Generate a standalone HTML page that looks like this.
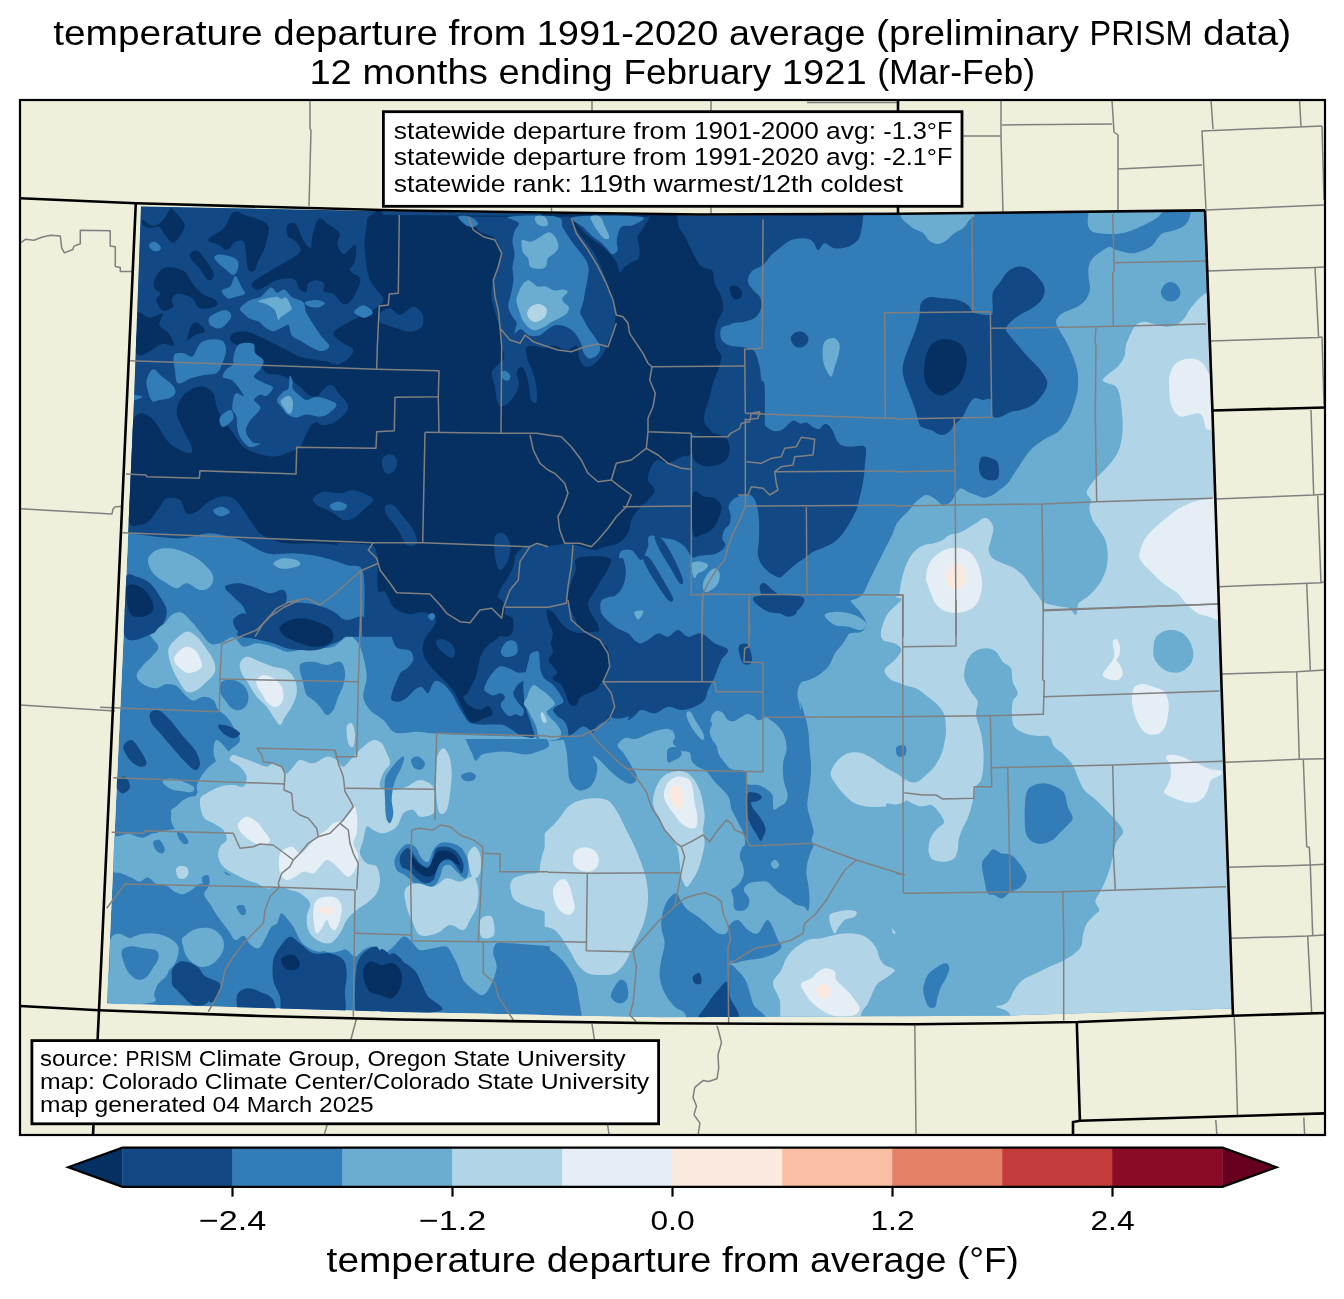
<!DOCTYPE html>
<html><head><meta charset="utf-8"><title>temperature departure map</title>
<style>html,body{margin:0;padding:0;background:#fff}svg{display:block;will-change:transform}text{font-family:"Liberation Sans",sans-serif;fill:#000}</style></head><body>
<svg width="1344" height="1299" viewBox="0 0 1344 1299">
<defs><clipPath id="fr"><rect x="20" y="100" width="1305" height="1035"/></clipPath>
<clipPath id="dc"><path d="M141,206.5L400,211.5L700,215.5L900,214.5L1206,210.5L1213.5,410L1222,700L1233,1008.5L1000,1015.8L660,1017.3L400,1012L107,1003.5L117,780L127,560L134,400Z"/></clipPath></defs>
<rect width="1344" height="1299" fill="#fff"/>
<g clip-path="url(#fr)">
<rect x="20" y="100" width="1305" height="1035" fill="#efefdb"/>
<g fill="none" stroke="#808080" stroke-width="1.5" stroke-linejoin="round">
<path d="M21,242.7L25.4,239.3L33.9,240.3L42.4,237L50.8,235.3L60.3,236L61.7,247.8L64.4,252.9L72.9,249.5L73.9,246.1L80.3,243.7L80.3,230.2L110.2,230.8L110.2,246.1L115.3,246.8L115.3,266.4L120.3,267.5L120.3,271.5L132.5,271.5"/>
<path d="M20,508.8L112,513.9L113,509L115,507L119,506.5L122,506.5"/>
<path d="M20,705L115,711"/>
<path d="M310,100L310,129L311,130L309,206"/>
<path d="M592,100L592,150"/>
<path d="M551.5,150L551.5,213"/>
<path d="M711,100L711,214"/>
<path d="M807,102.5L897,102.5"/>
<path d="M1001,100L1001,136L1003,213"/>
<path d="M962,136L1001,136"/>
<path d="M1002,125L1112,124"/>
<path d="M1112,100L1114,132L1118,135L1118,212"/>
<path d="M1118,169L1202,165"/>
<path d="M1211,100L1213,129"/>
<path d="M1322,126L1202,131L1206,210"/>
<path d="M1299.5,100L1301,126"/>
<path d="M1206,210L1324,205"/>
<path d="M1322,126L1324,200"/>
<path d="M1208,271L1315,267.4L1324,267"/>
<path d="M1315,267.4L1318.6,337.5"/>
<path d="M1210.6,341L1318.6,337.5L1322,337L1324,405"/>
<path d="M1311,410L1313.7,495"/>
<path d="M1215.3,499L1313.7,495L1324.3,494.3"/>
<path d="M1317.7,495.7L1321,582.7"/>
<path d="M1218.7,586.7L1321,582.7L1324.3,582"/>
<path d="M1306.7,583.3L1310.3,670"/>
<path d="M1222,674L1296.7,671.7L1324.3,670"/>
<path d="M1296.7,671.7L1299.3,759.3"/>
<path d="M1225.3,762.3L1299.3,759.3L1324.3,758.7"/>
<path d="M1303.3,760L1306.7,846.7L1309.3,847.3L1310.3,865"/>
<path d="M1228.7,867.3L1310.3,865L1324.3,864.3"/>
<path d="M1310.3,865L1312.7,935"/>
<path d="M1231,938.3L1307.7,936L1324.3,935"/>
<path d="M1307.7,936L1311.7,1013.5"/>
<path d="M1234.2,1017L1235.5,1046.4L1237.5,1116"/>
<path d="M1215.8,1120L1216.8,1134"/>
<path d="M1303.8,1117.5L1304.6,1134"/>
<path d="M914.8,1024L916,1134"/>
<path d="M717,1025.7L719.4,1034L721.5,1042.8L718,1054.8L718.7,1068.4L717,1078.7L708.4,1081.5L703.3,1080.4L694.8,1087.3L693,1097.5L696.5,1106L694,1114.6L699.9,1123.2L698.2,1134"/>
<path d="M356.4,1019L340,1080L324.5,1134"/>
<path d="M592,1024L609,1134"/>
</g>
<g clip-path="url(#dc)" shape-rendering="auto">
<path d="M141,206.5L400,211.5L700,215.5L900,214.5L1206,210.5L1213.5,410L1222,700L1233,1008.5L1000,1015.8L660,1017.3L400,1012L107,1003.5L117,780L127,560L134,400Z" fill="#327cb7"/>
<path d="M1191,210C1191,210 1190.1,217.2 1188.7,220C1187.3,222.8 1185.3,224.9 1182.7,226.7C1180,228.4 1176,229.6 1172.7,230.7C1169.3,231.8 1165.2,232.1 1162.7,233.3C1160.2,234.6 1159.3,236.4 1157.7,238.3C1156,240.3 1154.9,243.1 1152.7,245C1150.4,246.9 1147.7,248.6 1144.3,250C1141,251.4 1136.3,253.1 1132.7,253.3C1129.1,253.6 1125.7,252.3 1122.7,251.7C1119.6,251 1116.6,250.2 1114.3,249.3C1112.1,248.5 1111.6,246.3 1109.3,246.7C1107.1,247.1 1103.8,249.7 1101,251.7C1098.2,253.6 1094.7,255.8 1092.7,258.3C1090.6,260.8 1089.3,263.3 1088.7,266.7C1088,270 1088.4,274.7 1088.7,278.3C1088.9,281.9 1090.3,285 1090,288.3C1089.7,291.7 1088.6,295.4 1086.7,298.3C1084.8,301.3 1081.8,303.9 1078.7,306C1075.5,308.1 1070.8,309.2 1067.7,310.7C1064.6,312.2 1061.9,313.2 1060,315C1058.1,316.8 1056.1,319.2 1056,321.7C1055.9,324.2 1057.9,327.2 1059.3,330C1060.7,332.8 1062.7,335.3 1064.3,338.3C1066,341.4 1067.7,344.7 1069.3,348.3C1071,351.9 1072.9,355.8 1074.3,360C1075.7,364.2 1077.1,368.3 1077.7,373.3C1078.2,378.3 1078.2,385 1077.7,390C1077.1,395 1075.7,398.9 1074.3,403.3C1072.9,407.8 1071.3,412.8 1069.3,416.7C1067.4,420.6 1064.9,423.9 1062.7,426.7C1060.4,429.4 1058.8,431.4 1056,433.3C1053.2,435.3 1049.3,436.4 1046,438.3C1042.7,440.3 1039.1,442.5 1036,445C1032.9,447.5 1030.2,450.3 1027.7,453.3C1025.2,456.4 1023.2,460 1021,463.3C1018.8,466.7 1016.6,470 1014.3,473.3C1012.1,476.7 1010.2,480.6 1007.7,483.3C1005.2,486.1 1001.8,488.1 999.3,490C996.8,491.9 995.2,493.7 992.7,495C990.2,496.3 987.1,497.7 984.3,497.7C981.6,497.7 978.8,496 976,495C973.2,494 970.2,492.8 967.7,491.7C965.2,490.6 962.9,488.1 961,488.3C959.1,488.6 957.7,491.1 956,493.3C954.3,495.6 953.2,499.7 951,501.7C948.8,503.6 945.4,505.6 942.7,505C939.9,504.4 937.1,500 934.3,498.3C931.6,496.7 929.1,494.4 926,495C922.9,495.6 918.8,499.2 916,501.7C913.2,504.2 911.8,507.2 909.3,510C906.8,512.8 903.2,515.8 901,518.3C898.8,520.8 897.5,522.2 896,525C894.5,527.8 893.9,530.8 892,535C890.1,539.2 887,545 884.5,550C882,555 879.5,560 877,565C874.5,570 872,575 869.5,580C867,585 865.2,591.5 862,595C858.8,598.5 851.9,599.9 850,601C848.1,602.1 849.1,599.9 850.7,601.7C852.3,603.4 857.1,608.1 859.7,611.7C862.3,615.3 866.1,620 866.3,623.3C866.6,626.7 864.1,630 861.3,631.7C858.6,633.3 852.7,631.4 849.7,633.3C846.6,635.3 845.5,640 843,643.3C840.5,646.7 837.2,649.4 834.7,653.3C832.2,657.2 831.3,662.7 828,666.7C824.7,670.7 819,674.8 814.7,677.3C810.3,679.8 807.6,680.7 802,681.7C796.4,682.7 781.3,683.3 781.3,683.3L549.7,730L549.7,1033.3L1348,1033.3L1348,166.7L1191,210Z" fill="#6bacd1"/>
<path d="M136.7,675C136.9,671.9 140.8,668.1 143.3,665C145.8,661.9 149.2,659.7 151.7,656.7C154.2,653.6 158.6,650.6 158.3,646.7C158.1,642.8 149.4,636.7 150,633.3C150.6,630 158.1,629.7 161.7,626.7C165.3,623.6 168.3,617.3 171.7,615C175,612.7 178.3,611.6 181.7,612.7C185,613.8 188.6,618.5 191.7,621.7C194.7,624.8 196.9,628.1 200,631.7C203.1,635.3 206.7,641.4 210,643.3C213.3,645.3 216.1,644.3 220,643.3C223.9,642.3 229.4,636.8 233.3,637.3C237.2,637.9 239.4,645.7 243.3,646.7C247.2,647.7 251.7,643.3 256.7,643.3C261.7,643.3 268.3,645.3 273.3,646.7C278.3,648.1 282.2,651.1 286.7,651.7C291.1,652.2 295,650.6 300,650C305,649.4 311.1,648.9 316.7,648.3C322.2,647.8 328.1,648.7 333.3,646.7C338.6,644.6 344.2,636.6 348.3,636C352.5,635.4 355.8,639.9 358.3,643.3C360.8,646.8 361.9,651.1 363.3,656.7C364.7,662.2 366.7,670 366.7,676.7C366.7,683.3 362.8,691.1 363.3,696.7C363.9,702.2 366.7,706.1 370,710C373.3,713.9 379.4,716.4 383.3,720C387.2,723.6 390,729.4 393.3,731.7C396.7,733.9 399.4,733.3 403.3,733.3C407.2,733.3 411.7,731.7 416.7,731.7C421.7,731.7 425,732.8 433.3,733.3C441.7,733.9 455.6,734.6 466.7,735C477.8,735.4 490,735.7 500,736C510,736.3 517.8,736.4 526.7,736.7C535.6,736.9 553.3,737.3 553.3,737.3L553.3,946.7C553.3,946.7 540.6,945.6 533.3,945C526.1,944.4 516.1,943.6 510,943.3C503.9,943.1 499.4,941.7 496.7,943.3C493.9,945 493.3,949.4 493.3,953.3C493.3,957.2 496.9,961.7 496.7,966.7C496.4,971.7 493.9,978.6 491.7,983.3C489.4,988.1 486.4,993.9 483.3,995C480.3,996.1 476.7,992.5 473.3,990C470,987.5 465.8,983.9 463.3,980C460.8,976.1 460,970.6 458.3,966.7C456.7,962.8 455.3,960 453.3,956.7C451.4,953.3 450,948.1 446.7,946.7C443.3,945.3 437.8,947.8 433.3,948.3C428.9,948.9 423.6,951.1 420,950C416.4,948.9 414.4,943.9 411.7,941.7C408.9,939.4 406.4,935.8 403.3,936.7C400.3,937.5 396.7,943.9 393.3,946.7C390,949.4 386.7,953.3 383.3,953.3C380,953.3 376.7,947.2 373.3,946.7C370,946.1 366.4,948.3 363.3,950C360.3,951.7 357.8,956.7 355,956.7C352.2,956.7 350.3,951.7 346.7,950C343.1,948.3 337.8,946.4 333.3,946.7C328.9,946.9 324.4,951.7 320,951.7C315.6,951.7 310,949.2 306.7,946.7C303.3,944.2 301.7,940.3 300,936.7C298.3,933.1 298.9,928.3 296.7,925C294.4,921.7 290,918.9 286.7,916.7C283.3,914.4 279.4,911.1 276.7,911.7C273.9,912.2 272.8,917.2 270,920C267.2,922.8 262.5,928.1 260,928.3C257.5,928.6 255.6,924.7 255,921.7C254.4,918.6 255.3,914.2 256.7,910C258.1,905.8 263.1,900.3 263.3,896.7C263.6,893.1 261.1,890.6 258.3,888.3C255.6,886.1 250.8,885.3 246.7,883.3C242.5,881.4 237.2,878.9 233.3,876.7C229.4,874.4 226.1,872.8 223.3,870C220.6,867.2 217.2,863.9 216.7,860C216.1,856.1 220,851.1 220,846.7C220,842.2 219.4,836.7 216.7,833.3C213.9,830 206.7,830 203.3,826.7C200,823.3 197.2,817.8 196.7,813.3C196.1,808.9 200,804.4 200,800C200,795.6 196.1,791.1 196.7,786.7C197.2,782.2 200.6,777.2 203.3,773.3C206.1,769.4 210,766.1 213.3,763.3C216.7,760.6 220.6,758.9 223.3,756.7C226.1,754.4 227.2,752.8 230,750C232.8,747.2 239.4,743.9 240,740C240.6,736.1 235.6,730.6 233.3,726.7C231.1,722.8 229.2,719.4 226.7,716.7C224.2,713.9 220.6,712.8 218.3,710C216.1,707.2 215.8,702.2 213.3,700C210.8,697.8 206.7,696.6 203.3,696.7C200,696.8 196.4,700.9 193.3,700.7C190.3,700.4 187.8,697.4 185,695C182.2,692.6 179.7,687.8 176.7,686C173.6,684.2 170.3,683.6 166.7,684C163.1,684.4 159.2,688.4 155,688.3C150.8,688.2 144.7,685.6 141.7,683.3C138.6,681.1 136.4,678.1 136.7,675Z" fill="#6bacd1"/>
<path d="M300,665C301.7,661.4 308.9,661.7 313.3,661.7C317.8,661.7 322.2,665 326.7,665C331.1,665 336.9,660.6 340,661.7C343.1,662.8 344.4,667.8 345,671.7C345.6,675.6 344.4,680.8 343.3,685C342.2,689.2 340,692.5 338.3,696.7C336.7,700.8 335.3,706.9 333.3,710C331.4,713.1 328.9,715.6 326.7,715C324.4,714.4 322.2,709.2 320,706.7C317.8,704.2 315.6,701.9 313.3,700C311.1,698.1 308.3,697.8 306.7,695C305,692.2 304.4,688.3 303.3,683.3C302.2,678.3 298.3,668.6 300,665Z" fill="#327cb7"/>
<path d="M221.7,681.7C223.9,679.7 229.7,679.4 233.3,680C236.9,680.6 240.8,682.5 243.3,685C245.8,687.5 247.8,691.7 248.3,695C248.9,698.3 248.1,702.5 246.7,705C245.3,707.5 242.5,709.4 240,710C237.5,710.6 234.2,710 231.7,708.3C229.2,706.7 226.9,702.8 225,700C223.1,697.2 220.6,694.7 220,691.7C219.4,688.6 219.4,683.6 221.7,681.7Z" fill="#327cb7"/>
<path d="M395,858.3C396.4,854.2 401.7,846.9 405,845C408.3,843.1 412.2,844.4 415,846.7C417.8,848.9 419.4,855.8 421.7,858.3C423.9,860.8 426.4,863.1 428.3,861.7C430.3,860.3 431.4,853.1 433.3,850C435.3,846.9 437.2,844.6 440,843.3C442.8,842.1 446.4,841.8 450,842.7C453.6,843.5 458.6,844.9 461.7,848.3C464.7,851.8 467.6,858.3 468.3,863.3C469.1,868.3 467.9,876.9 466,878.3C464.1,879.7 459.3,873.9 456.7,871.7C454,869.4 452.2,865.8 450,865C447.8,864.2 445,864.7 443.3,866.7C441.7,868.6 441.4,873.6 440,876.7C438.6,879.7 437.5,883.1 435,885C432.5,886.9 428.3,888.6 425,888.3C421.7,888.1 418.3,885.6 415,883.3C411.7,881.1 408.1,877.2 405,875C401.9,872.8 398.3,872.8 396.7,870C395,867.2 393.6,862.5 395,858.3Z" fill="#327cb7"/>
<path d="M541.3,593.3L849.7,593.3C849.7,593.3 849,598.6 850.7,601.7C852.3,604.7 857.1,608.1 859.7,611.7C862.3,615.3 866.1,620 866.3,623.3C866.6,626.7 864.1,630 861.3,631.7C858.6,633.3 852.7,631.4 849.7,633.3C846.6,635.3 845.5,640 843,643.3C840.5,646.7 837.2,649.4 834.7,653.3C832.2,657.2 831.3,662.7 828,666.7C824.7,670.7 819,674.8 814.7,677.3C810.3,679.8 804.9,679 802,681.7C799.1,684.3 798,688.1 797.3,693.3C796.7,698.6 802.9,710 798,713.3C793.1,716.7 773.6,712.7 768,713.3C762.4,714 766.3,716.2 764.7,717.3C763.1,718.5 760.2,720.6 758.3,720.3C756.4,720.1 755.2,717.1 753.3,716C751.4,714.9 749.3,713.7 747,714C744.7,714.3 741.9,716.8 739.7,718C737.4,719.2 735.4,721.2 733.3,721.3C731.2,721.5 728.7,720.4 727,719C725.3,717.6 724.6,714.4 723,713C721.4,711.6 719.4,710.5 717.7,710.7C715.9,710.8 713.9,712.2 712.7,714C711.4,715.8 710.9,718.4 710.3,721.3C709.8,724.3 710.3,730.8 709.3,731.7C708.4,732.6 710.4,727.5 704.7,726.7C698.9,725.8 680.3,726 675,726.7C669.7,727.3 674.4,730.3 673,730.7C671.6,731 669.4,728.7 666.7,728.7C663.9,728.7 659.8,729.7 656.3,730.7C652.9,731.7 649.5,733.3 646,734.7C642.5,736.1 638.8,738.4 635.3,739C631.8,739.6 627.9,736.9 625,738C622.1,739.1 618,742.9 617.7,745.3C617.3,747.7 621.2,749.8 623,752.3C624.8,754.9 626.6,757.9 628.3,760.7C630.1,763.4 631.9,766.6 633.3,769C634.7,771.4 636.3,773.2 636.7,775.3C637,777.4 636.6,780.3 635.3,781.7C634.1,783.1 631.7,784 629.3,783.7C626.9,783.3 623.8,781.4 621,779.7C618.2,777.9 615.4,775.8 612.7,773.3C609.9,770.9 606.8,767.4 604.3,765C601.9,762.6 599.9,760.1 598,758.7C596.1,757.3 593.1,755.3 593,756.7C592.9,758 597.1,762.8 597.3,766.7C597.6,770.6 596.2,776.4 594.7,780C593.1,783.6 590.8,786.7 588,788.3C585.2,790 581.1,791.4 578,790C574.9,788.6 571.3,783.9 569.7,780C568,776.1 568.6,771.7 568,766.7C567.4,761.7 567.4,755 566.3,750C565.2,745 564.4,739.2 561.3,736.7C558.3,734.2 551.3,735.6 548,735C544.7,734.4 541.3,733.3 541.3,733.3L541.3,593.3Z" fill="#327cb7"/>
<path d="M673,721.2C679.1,719.7 703.4,719.5 709.5,721.2C715.5,723 708.9,728.5 709.5,731.7C710,734.8 711.4,737.6 712.6,740C713.8,742.4 715.7,743.8 716.8,746.2C717.8,748.7 717.4,751.8 718.8,754.6C720.2,757.4 723,760.5 725.1,762.9C727.2,765.3 727.9,767.7 731.3,769.2C734.7,770.6 742.9,769.2 745.5,771.7C748.1,774.1 745.2,781.6 747,783.8C748.8,785.9 753.4,784.1 756.3,784.8C759.3,785.5 762.1,786.4 764.7,787.9C767.3,789.5 770.6,791.7 772,794.2C773.3,796.6 772.7,799.9 773,802.5C773.3,805.1 773,809.1 774,809.8C775.1,810.5 777.3,807.9 779.2,806.7C781.2,805.5 784.1,804.6 785.5,802.5C786.9,800.4 787.8,797.3 787.6,794.2C787.4,791 785.2,787.2 784.5,783.8C783.7,780.3 783.2,777.2 783,773.3C782.8,769.5 782.8,764.7 783.4,760.8C784,757 786.2,753.9 786.5,750.4C786.9,746.9 786.2,743.1 785.5,740C784.8,736.9 784.1,734.4 782.4,731.7C780.6,728.9 777.5,725.6 775.1,723.3C772.7,721.1 769.5,720.2 767.8,718.1C766.1,716 759.6,712 764.7,710.8C769.7,709.6 792.1,712.2 798,710.8C803.9,709.4 798.9,701.5 800.1,702.5C801.3,703.5 803.9,712.2 805.3,717.1C806.7,721.9 807.7,726.5 808.4,731.7C809.1,736.9 809,743.1 809.5,748.3C809.9,753.5 810.7,757.7 810.9,762.9C811.1,768.1 810.9,774.4 810.5,779.6C810.1,784.8 808.9,789.7 808.4,794.2C807.9,798.7 807,802.5 807.4,806.7C807.7,810.8 809.5,815 810.5,819.2C811.5,823.3 813.5,828.2 813.6,831.7C813.8,835.1 811.5,837.7 811.5,840C811.5,842.3 813.8,843.1 813.6,845.2C813.5,847.3 811.5,849.5 810.5,852.5C809.5,855.5 808.1,859.4 807.4,862.9C806.7,866.4 806.2,869.5 806.3,873.3C806.5,877.2 807.9,881.7 808.4,885.8C808.9,890 809.5,894.2 809.5,898.3C809.5,902.5 809.3,909.4 808.4,910.8C807.5,912.2 806.3,907.7 804.2,906.7C802.2,905.6 798.7,906 795.9,904.6C793.1,903.2 790.4,900.2 787.6,898.3C784.8,896.4 781.7,895 779.2,893.1C776.8,891.2 775.1,888.8 773,886.9C770.9,885 769.5,882.5 766.8,881.7C764,880.8 759.5,881.3 756.3,881.7C753.2,882 750.1,882.4 748,883.8C745.9,885.1 743.7,887.6 743.8,890C744,892.4 748.3,895.6 749,898.3C749.7,901.1 749.2,904.6 748,906.7C746.8,908.8 744,910.5 741.8,910.8C739.5,911.2 735.8,910.8 734.5,908.8C733.1,906.7 733.9,901.5 733.4,898.3C732.9,895.2 731,891.9 731.3,890C731.7,888.1 733.9,888.3 735.5,886.9C737.1,885.5 739.3,883.9 740.7,881.7C742.1,879.4 743.5,876.1 743.8,873.3C744.2,870.6 743.5,867.8 742.8,865C742.1,862.2 739.8,859.4 739.7,856.7C739.5,853.9 740.9,850.4 741.8,848.3C742.6,846.2 744.5,846.6 744.9,844.2C745.2,841.7 744.7,836.9 743.8,833.8C743,830.6 741.1,828.2 739.7,825.4C738.3,822.6 736.9,819.9 735.5,817.1C734.1,814.3 732.4,811.9 731.3,808.8C730.3,805.6 730.6,801.5 729.2,798.3C727.9,795.2 725.4,792.8 723,790C720.6,787.2 717.4,784.8 714.7,781.7C711.9,778.5 709.1,773.7 706.3,771.2C703.6,768.8 700.4,768.8 698,767.1C695.6,765.3 693.1,763.3 691.8,760.8C690.4,758.4 691.4,754.2 689.7,752.5C687.9,750.8 684.1,752 681.3,750.4C678.6,748.9 674,745.4 673,743.1C672,740.9 675.1,739 675.1,736.9C675.1,734.8 673.3,733.2 673,730.6C672.7,728 666.9,722.8 673,721.2Z" fill="#327cb7"/>
<path d="M667.8,749.4C669.4,746.9 674.9,746.9 677.2,747.3C679.4,747.6 680.8,749.9 681.3,751.5C681.9,753 681.7,755.1 680.3,756.7C678.9,758.2 675.1,760 673,760.8C670.9,761.7 668.7,763.8 667.8,761.9C666.9,760 666.2,751.8 667.8,749.4Z" fill="#327cb7"/>
<path d="M663,911.7C664.1,907.2 665.8,903.1 668,900C670.2,896.9 674.1,893.1 676.3,893.3C678.6,893.6 679.4,898.9 681.3,901.7C683.3,904.4 685.2,907.5 688,910C690.8,912.5 694.7,914.2 698,916.7C701.3,919.2 704.7,922.2 708,925C711.3,927.8 714.9,931.9 718,933.3C721.1,934.7 724.4,934.7 726.3,933.3C728.3,931.9 727.7,927.2 729.7,925C731.6,922.8 734.9,919.2 738,920C741.1,920.8 744.7,927.8 748,930C751.3,932.2 754.7,935 758,933.3C761.3,931.7 764.7,918.9 768,920C771.3,921.1 775.8,935.6 778,940C780.2,944.4 781.9,944.4 781.3,946.7C780.8,948.9 778,951.4 774.7,953.3C771.3,955.3 765.8,957.2 761.3,958.3C756.9,959.4 752.4,959.2 748,960C743.6,960.8 737.7,962.2 734.7,963.3C731.6,964.4 730.5,955 729.7,966.7C728.8,978.3 735.5,1022.2 729.7,1033.3C723.8,1044.4 702.2,1036.7 694.7,1033.3C687.2,1030 688,1017.8 684.7,1013.3C681.3,1008.9 678,1010 674.7,1006.7C671.3,1003.3 667.2,998.3 664.7,993.3C662.2,988.3 660.2,982.2 659.7,976.7C659.1,971.1 660.5,965.6 661.3,960C662.2,954.4 664.7,948.9 664.7,943.3C664.7,937.8 661.6,931.9 661.3,926.7C661.1,921.4 661.9,916.1 663,911.7Z" fill="#327cb7"/>
<path d="M541.3,945C541.3,945 550.8,950.3 554.7,953.3C558.6,956.4 561.6,959.4 564.7,963.3C567.7,967.2 570.8,971.7 573,976.7C575.2,981.7 576.9,983.9 578,993.3C579.1,1002.8 585.8,1026.7 579.7,1033.3C573.6,1040 541.3,1033.3 541.3,1033.3L541.3,945Z" fill="#327cb7"/>
<path d="M611.3,993.3C612.4,990 617.2,981.7 619.7,980C622.2,978.3 624.9,980.6 626.3,983.3C627.7,986.1 628.8,993.3 628,996.7C627.2,1000 623.8,1002.8 621.3,1003.3C618.8,1003.9 614.7,1001.7 613,1000C611.3,998.3 610.2,996.7 611.3,993.3Z" fill="#327cb7"/>
<path d="M902.7,366.7C903.2,361.7 905.7,355.6 907.7,350C909.6,344.4 912.4,338.9 914.3,333.3C916.3,327.8 918.2,321.7 919.3,316.7C920.4,311.7 919.3,306.6 921,303.3C922.7,300.1 925.7,298.2 929.3,297.3C932.9,296.5 937.9,297.9 942.7,298.3C947.4,298.8 953.5,298.9 957.7,300C961.8,301.1 964.9,302.9 967.7,305C970.4,307.1 970.6,311 974.3,312.7C978.1,314.3 987.3,315.4 990.3,315C993.4,314.6 992.3,313.6 992.7,310C993.1,306.4 991.6,297.8 992.7,293.3C993.8,288.9 996.8,286.9 999.3,283.3C1001.8,279.7 1004.6,274.4 1007.7,271.7C1010.7,268.9 1014.3,267.2 1017.7,266.7C1021,266.1 1024.3,266.7 1027.7,268.3C1031,270 1034.9,273.5 1037.7,276.7C1040.4,279.8 1043.5,283.7 1044.3,287.3C1045.2,290.9 1044.3,295.1 1042.7,298.3C1041,301.6 1037.7,304.2 1034.3,306.7C1031,309.2 1026.3,311.1 1022.7,313.3C1019.1,315.6 1015.4,317.5 1012.7,320C1009.9,322.5 1006.6,325.8 1006,328.3C1005.4,330.8 1007.4,332.2 1009.3,335C1011.3,337.8 1014.6,341.4 1017.7,345C1020.7,348.6 1024.3,353.1 1027.7,356.7C1031,360.3 1034.6,363.1 1037.7,366.7C1040.7,370.3 1044.5,375 1046,378.3C1047.5,381.7 1047.5,383.6 1046.7,386.7C1045.8,389.7 1043.3,393.6 1041,396.7C1038.7,399.7 1036,402.8 1032.7,405C1029.3,407.2 1024.6,408.9 1021,410C1017.4,411.1 1014.3,410.6 1011,411.7C1007.7,412.8 1004.1,415.9 1001,416.7C997.9,417.4 994.3,418.8 992.7,416C991,413.2 992.7,402.7 991,400C989.3,397.3 985.4,400.3 982.7,400C979.9,399.7 976.8,397.2 974.3,398.3C971.8,399.4 969.6,403.6 967.7,406.7C965.7,409.7 964.9,413.6 962.7,416.7C960.4,419.7 956.6,422.5 954.3,425C952.1,427.5 951.6,430 949.3,431.7C947.1,433.3 944.1,435.3 941,435C937.9,434.7 934.3,431.4 931,430C927.7,428.6 923.2,428.6 921,426.7C918.8,424.7 918.8,421.7 917.7,418.3C916.6,415 915.7,410.8 914.3,406.7C912.9,402.5 911,397.8 909.3,393.3C907.7,388.9 905.4,384.4 904.3,380C903.2,375.6 902.1,371.7 902.7,366.7Z" fill="#124984"/>
<path d="M979.3,463.3C979.8,461 980.9,457.2 982,456.7C983.1,456.1 984.2,459.3 986,460C987.8,460.7 990.9,459.6 992.7,460.7C994.4,461.8 996.2,464.3 996.7,466.7C997.1,469.1 996.6,472.9 995.3,475C994.1,477.1 991.4,478.9 989.3,479.3C987.2,479.7 984.3,478.8 982.7,477.3C981,475.9 979.9,473 979.3,470.7C978.8,468.3 978.9,465.7 979.3,463.3Z" fill="#124984"/>
<path d="M400,856.7C400.8,853.6 404.7,849.2 406.7,848.3C408.6,847.5 409.4,849.2 411.7,851.7C413.9,854.2 417.2,860.8 420,863.3C422.8,865.8 426.1,867.8 428.3,866.7C430.6,865.6 431.9,859.7 433.3,856.7C434.7,853.6 434.4,850 436.7,848.3C438.9,846.7 443.3,846.1 446.7,846.7C450,847.2 453.9,848.9 456.7,851.7C459.4,854.4 462.5,859.7 463.3,863.3C464.2,866.9 462.8,872.8 461.7,873.3C460.6,873.9 458.6,868.9 456.7,866.7C454.7,864.4 452.5,860.8 450,860C447.5,859.2 443.9,860 441.7,861.7C439.4,863.3 438.1,866.9 436.7,870C435.3,873.1 435.3,877.8 433.3,880C431.4,882.2 427.8,883.6 425,883.3C422.2,883.1 419.4,880.6 416.7,878.3C413.9,876.1 410.8,871.9 408.3,870C405.8,868.1 403.1,868.9 401.7,866.7C400.3,864.4 399.2,859.7 400,856.7Z" fill="#124984"/>
<path d="M233.3,620C234.4,617.2 239.4,613.6 243.3,613.3C247.2,613.1 251.7,619.4 256.7,618.3C261.7,617.2 268.3,609.2 273.3,606.7C278.3,604.2 281.1,603.9 286.7,603.3C292.2,602.8 300,602.5 306.7,603.3C313.3,604.2 321.1,606.1 326.7,608.3C332.2,610.6 336.7,613.3 340,616.7C343.3,620 346.1,624.7 346.7,628.3C347.2,631.9 346.1,635.6 343.3,638.3C340.6,641.1 334.4,643.1 330,645C325.6,646.9 321.7,649.2 316.7,650C311.7,650.8 305,650.3 300,650C295,649.7 291.1,649.4 286.7,648.3C282.2,647.2 277.8,644.7 273.3,643.3C268.9,641.9 264.4,641.1 260,640C255.6,638.9 250.6,638.3 246.7,636.7C242.8,635 238.9,632.8 236.7,630C234.4,627.2 232.2,622.8 233.3,620Z" fill="#124984"/>
<path d="M125,606.7C126.7,604.2 131.9,600.8 136.7,600C141.4,599.2 150,600 153.3,601.7C156.7,603.3 157.2,607.5 156.7,610C156.1,612.5 153.3,615.3 150,616.7C146.7,618.1 140.6,618.6 136.7,618.3C132.8,618.1 128.6,616.9 126.7,615C124.7,613.1 123.3,609.2 125,606.7Z" fill="#124984"/>
<path d="M150,713.3C151.1,711.1 155,708.9 158.3,710C161.7,711.1 165.8,715.6 170,720C174.2,724.4 179.2,731.7 183.3,736.7C187.5,741.7 192.2,745.6 195,750C197.8,754.4 200,760 200,763.3C200,766.7 197.8,770.6 195,770C192.2,769.4 187.2,763.9 183.3,760C179.4,756.1 175.6,751.1 171.7,746.7C167.8,742.2 163.3,737.2 160,733.3C156.7,729.4 153.3,726.7 151.7,723.3C150,720 148.9,715.6 150,713.3Z" fill="#124984"/>
<path d="M123.3,746.7C123.6,743.3 128.9,739.4 131.7,740C134.4,740.6 137.5,746.1 140,750C142.5,753.9 146.7,760.6 146.7,763.3C146.7,766.1 142.8,767.2 140,766.7C137.2,766.1 132.8,763.3 130,760C127.2,756.7 123.1,750 123.3,746.7Z" fill="#124984"/>
<path d="M116.7,780C118.1,778.1 122.8,775.6 125,776.7C127.2,777.8 130.3,783.9 130,786.7C129.7,789.4 125.6,793.1 123.3,793.3C121.1,793.6 117.8,790.6 116.7,788.3C115.6,786.1 115.3,781.9 116.7,780Z" fill="#124984"/>
<path d="M218.3,725C219.4,723.9 226.4,725.3 230,726.7C233.6,728.1 239.4,731.4 240,733.3C240.6,735.3 236.1,738.3 233.3,738.3C230.6,738.3 225.8,735.6 223.3,733.3C220.8,731.1 217.2,726.1 218.3,725Z" fill="#124984"/>
<path d="M273.3,960C274.4,954.4 277.2,950.6 280,946.7C282.8,942.8 286.7,937.2 290,936.7C293.3,936.1 296.1,940.6 300,943.3C303.9,946.1 308.3,951.7 313.3,953.3C318.3,955 325,952.2 330,953.3C335,954.4 340.6,956.7 343.3,960C346.1,963.3 346.4,968.3 346.7,973.3C346.9,978.3 346.1,982.2 345,990C343.9,997.8 349.7,1015 340,1020C330.3,1025 296.7,1023.9 286.7,1020C276.7,1016.1 282.2,1003.3 280,996.7C277.8,990 274.4,986.1 273.3,980C272.2,973.9 272.2,965.6 273.3,960Z" fill="#124984"/>
<path d="M356.7,966.7C358.1,960 360,956.7 363.3,953.3C366.7,950 373.3,945.8 376.7,946.7C380,947.5 380.6,957.2 383.3,958.3C386.1,959.4 390,952.8 393.3,953.3C396.7,953.9 400.8,957.8 403.3,961.7C405.8,965.6 408.1,971.4 408.3,976.7C408.6,981.9 406.9,988.6 405,993.3C403.1,998.1 400.3,1002.2 396.7,1005C393.1,1007.8 388.3,1008.6 383.3,1010C378.3,1011.4 371.1,1011.7 366.7,1013.3C362.2,1015 358.6,1023.3 356.7,1020C354.7,1016.7 355,1002.2 355,993.3C355,984.4 355.3,973.3 356.7,966.7Z" fill="#124984"/>
<path d="M171.7,971.7C172.5,967.5 176.4,962.8 180,961.7C183.6,960.6 189.4,962.5 193.3,965C197.2,967.5 200.6,972.5 203.3,976.7C206.1,980.8 209.4,985.6 210,990C210.6,994.4 209.4,1000.8 206.7,1003.3C203.9,1005.8 197.2,1006.1 193.3,1005C189.4,1003.9 186.4,999.7 183.3,996.7C180.3,993.6 176.9,990.8 175,986.7C173.1,982.5 170.8,975.8 171.7,971.7Z" fill="#124984"/>
<path d="M236.7,996.7C237.2,991.4 242.8,989.2 246.7,988.3C250.6,987.5 255.6,989.7 260,991.7C264.4,993.6 271.1,995.3 273.3,1000C275.6,1004.7 278.3,1016.7 273.3,1020C268.3,1023.3 249.4,1023.9 243.3,1020C237.2,1016.1 236.1,1001.9 236.7,996.7Z" fill="#124984"/>
<path d="M747.6,794.2C748.5,790.4 751.2,792.5 753.2,792.5C755.2,792.5 758.1,793.2 759.5,794.2C760.8,795.1 762.1,797.1 761.5,798.3C761,799.5 758.1,800.8 756.3,801.5C754.6,802.2 751.6,801.3 751.1,802.5C750.6,803.7 752,806.7 753.2,808.8C754.4,810.8 756.7,812.6 758.4,815C760.2,817.4 762.4,820.7 763.6,823.3C764.8,825.9 765.9,828.2 765.7,830.6C765.5,833.1 763.5,836.2 762.6,837.9C761.7,839.7 761.5,841.7 760.5,841C759.5,840.3 757.9,836.4 756.3,833.8C754.8,831.1 752.6,828.5 751.1,825.4C749.7,822.3 748.2,820.2 747.6,815C747,809.8 746.6,797.9 747.6,794.2Z" fill="#124984"/>
<path d="M699.7,1020C695.9,1017.2 704.9,1008.3 708,1003.3C711.1,998.3 714.7,993.3 718,990C721.3,986.7 725.9,978.3 728,983.3C730.1,988.3 735.1,1013.9 730.3,1020C725.6,1026.1 703.4,1022.8 699.7,1020Z" fill="#124984"/>
<path d="M693,976.7C693.8,975 698.3,972.2 699.7,973.3C701.1,974.4 702.2,981.7 701.3,983.3C700.5,985 696.1,984.4 694.7,983.3C693.3,982.2 692.2,978.3 693,976.7Z" fill="#124984"/>
<path d="M581.3,596.7C581.3,596.7 594.7,593.9 598,596.7C601.3,599.4 598.6,608.3 601.3,613.3C604.1,618.3 610.2,623.3 614.7,626.7C619.1,630 624.1,630.6 628,633.3C631.9,636.1 634.7,642.2 638,643.3C641.3,644.4 644.7,641.7 648,640C651.3,638.3 654.7,633.9 658,633.3C661.3,632.8 664.7,637.2 668,636.7C671.3,636.1 674.7,630 678,630C681.3,630 684.1,636.1 688,636.7C691.9,637.2 696.9,632.2 701.3,633.3C705.8,634.4 710.2,640.6 714.7,643.3C719.1,646.1 726.9,647.2 728,650C729.1,652.8 723.6,655.6 721.3,660C719.1,664.4 716.9,671.7 714.7,676.7C712.4,681.7 709.7,686.1 708,690C706.3,693.9 706.9,697.2 704.7,700C702.4,702.8 698.6,705 694.7,706.7C690.8,708.3 685.8,710 681.3,710C676.9,710 672.4,706.1 668,706.7C663.6,707.2 659.1,712.8 654.7,713.3C650.2,713.9 645.8,709.4 641.3,710C636.9,710.6 632.4,715.3 628,716.7C623.6,718.1 618.6,718.9 614.7,718.3C610.8,717.8 608,713.1 604.7,713.3C601.3,713.6 598,719.4 594.7,720C591.3,720.6 586.9,720 584.7,716.7C582.4,713.3 581.3,700 581.3,700L581.3,596.7Z" fill="#124984"/>
<path d="M754.7,596.7C760.8,594.4 794.1,594.4 801.3,596.7C808.6,598.9 801.3,607.2 798,610C794.7,612.8 786.9,613.3 781.3,613.3C775.8,613.3 769.1,612.8 764.7,610C760.2,607.2 748.6,598.9 754.7,596.7Z" fill="#124984"/>
<path d="M738.7,646.7C739.5,643.6 745.8,642.5 748,645C750.2,647.5 752.8,658.6 752,661.7C751.2,664.7 745.2,665.8 743,663.3C740.8,660.8 737.8,649.7 738.7,646.7Z" fill="#124984"/>
<path d="M541.3,210L863,210C863,210 863.3,215 863,218.3C862.7,221.7 862.2,226.4 861.3,230C860.5,233.6 860.2,237.2 858,240C855.8,242.8 851.9,245.3 848,246.7C844.1,248.1 838.6,248.9 834.7,248.3C830.8,247.8 827.4,243.1 824.7,243.3C821.9,243.6 819.9,250.3 818,250C816.1,249.7 815.2,243.6 813,241.7C810.8,239.7 808.3,238.6 804.7,238.3C801.1,238.1 795.2,238.6 791.3,240C787.4,241.4 784.7,244.2 781.3,246.7C778,249.2 774.4,251.9 771.3,255C768.3,258.1 766.3,262.2 763,265C759.7,267.8 753.8,268.9 751.3,271.7C748.8,274.4 747.7,278.6 748,281.7C748.3,284.7 751.1,287.5 753,290C754.9,292.5 758.3,293.9 759.7,296.7C761.1,299.4 761.9,303.3 761.3,306.7C760.8,310 759.1,314.2 756.3,316.7C753.6,319.2 748.6,320.6 744.7,321.7C740.8,322.8 736.6,321.9 733,323.3C729.4,324.7 724.9,327.5 723,330C721.1,332.5 720.5,335.8 721.3,338.3C722.2,340.8 724.9,343.6 728,345C731.1,346.4 736.3,346.1 739.7,346.7C743,347.2 745.5,347.5 748,348.3C750.5,349.2 752.7,348.6 754.7,351.7C756.6,354.7 758.6,361.9 759.7,366.7C760.8,371.4 760.5,376.7 761.3,380C762.2,383.3 764.1,377.8 764.7,386.7C765.2,395.6 764.7,433.3 764.7,433.3L541.3,433.3L541.3,210Z" fill="#124984"/>
<path d="M744.2,377.9C744.2,377.9 757.9,375.5 760.4,377.9C762.9,380.3 759.5,388 759.2,392.5C758.8,397 758.6,401.5 758.3,405C758.1,408.5 757.5,410.7 757.7,413.3C758,415.9 758.6,418.5 759.8,420.6C761,422.7 762.7,424.1 765,425.8C767.3,427.6 770.6,430.3 773.3,431C776.1,431.7 778.9,431.4 781.7,430C784.4,428.6 787.9,424.3 790,422.7C792.1,421.1 792.4,420.5 794.2,420.6C795.9,420.8 798.3,423.4 800.4,423.8C802.5,424.1 804.6,422.2 806.7,422.7C808.8,423.2 810.8,425.8 812.9,426.9C815,427.9 817.1,429.5 819.2,429C821.3,428.4 823.3,423.8 825.4,423.8C827.5,423.8 829.8,426.2 831.7,429C833.6,431.7 835.1,437.6 836.9,440.4C838.6,443.2 839.8,444.6 842.1,445.6C844.3,446.7 846.8,446.6 850.4,446.7C854.1,446.8 861.4,445.2 864,446.2C866.6,447.3 865.9,450.1 866,452.9C866.2,455.8 865.3,459.5 865,463.3C864.7,467.2 864.5,471.7 864,475.8C863.4,480 862.7,484.2 861.9,488.3C861,492.5 859.6,497.4 858.8,500.8C857.9,504.3 858.1,505.7 856.7,509.2C855.3,512.6 852.8,517.5 850.4,521.7C848,525.8 844.9,530.7 842.1,534.2C839.3,537.6 836.9,540.2 833.8,542.5C830.6,544.8 826.8,546.1 823.3,547.7C819.9,549.3 816,550.1 812.9,551.9C809.8,553.6 807.7,555.9 804.6,558.1C801.5,560.4 797.3,563 794.2,565.4C791,567.8 788.3,570.7 785.8,572.7C783.4,574.7 782,577.3 779.6,577.5C777.2,577.7 773.7,575.2 771.2,573.8C768.8,572.3 766.9,570.6 765,568.5C763.1,566.5 761,563.9 759.8,561.2C758.6,558.6 757.9,556 757.7,552.9C757.5,549.8 758.5,546.3 758.8,542.5C759,538.7 759.2,534.2 759.2,530C759.2,525.8 759.2,521.7 758.8,517.5C758.3,513.3 757.5,508.3 756.7,505C755.8,501.7 754.9,499.4 753.5,497.7C752.2,496 750.9,494.8 748.3,494.6C745.7,494.4 740.7,495.6 737.9,496.7C735.1,497.7 733.2,499.1 731.7,500.8C730.1,502.6 728.7,504.7 728.5,507.1C728.4,509.5 730.5,512.6 730.6,515.4C730.8,518.2 730.6,521.3 729.6,523.8C728.5,526.2 725.6,527.6 724.4,530C723.2,532.4 722.1,535.9 722.3,538.3C722.5,540.8 725.4,542.7 725.4,544.6C725.4,546.5 724,548.2 722.3,549.8C720.6,551.4 717.6,553.1 715,554C712.4,554.8 709.4,554.7 706.7,555C703.9,555.3 700.8,555.7 698.3,556C695.9,556.4 694.3,558.6 692.1,557.1C689.8,555.5 687.6,549.4 684.8,546.7C682,543.9 678.7,541.8 675.4,540.4C672.1,539 668.8,539.2 665,538.3C661.2,537.5 656.7,537.3 652.5,535.2C648.3,533.1 642.4,527.4 640,525.8C637.6,524.3 637.9,525.8 637.9,525.8L637.9,377.9L744.2,377.9Z" fill="#124984"/>
<path d="M140,203.3L553.3,203.3L553.3,636.7L363.3,636.7C363.3,636.7 366.1,585.3 363.3,573.3C360.6,561.4 353.9,567.8 346.7,565C339.4,562.2 328.9,558.6 320,556.7C311.1,554.7 302.2,553.9 293.3,553.3C284.4,552.8 275.6,555.6 266.7,553.3C257.8,551.1 249.4,543.3 240,540C230.6,536.7 219.4,533.6 210,533.3C200.6,533.1 192.2,537.8 183.3,538.3C174.4,538.9 165.8,537.5 156.7,536.7C147.5,535.8 134.4,533.9 128.3,533.3C122.2,532.8 120,533.3 120,533.3L140,203.3Z" fill="#124984"/>
<path d="M541.3,430L694.7,430L694.7,536.7C694.7,536.7 660.1,533.7 652.3,535.3C644.6,537 649.8,542.6 648,546.7C646.2,550.8 644.1,559.4 641.3,560C638.6,560.6 634.9,551.1 631.3,550C627.7,548.9 621.6,548.9 619.7,553.3C617.7,557.8 620.5,570.6 619.7,576.7C618.8,582.8 617.2,586.7 614.7,590C612.2,593.3 607.4,595 604.7,596.7C601.9,598.3 599.7,597.8 598,600C596.3,602.2 595.8,603.9 594.7,610C593.6,616.1 600.2,632.2 591.3,636.7C582.4,641.1 541.3,636.7 541.3,636.7L541.3,430Z" fill="#124984"/>
<path d="M654.7,536.7C655.2,535 659.7,536.1 663,540C666.3,543.9 671.3,553.3 674.7,560C678,566.7 682.2,576.1 683,580C683.8,583.9 681.9,585.6 679.7,583.3C677.4,581.1 673,572.2 669.7,566.7C666.3,561.1 662.2,555 659.7,550C657.2,545 654.1,538.3 654.7,536.7Z" fill="#124984"/>
<path d="M643,556.7C643.6,555.3 646.6,555 649.7,558.3C652.7,561.7 657.4,570 661.3,576.7C665.2,583.3 671.9,594.4 673,598.3C674.1,602.2 670.8,602.5 668,600C665.2,597.5 659.9,588.9 656.3,583.3C652.7,577.8 648.6,571.1 646.3,566.7C644.1,562.2 642.4,558.1 643,556.7Z" fill="#124984"/>
<path d="M979.7,463.3C979.9,460.3 981.1,457.5 983,456.7C984.9,455.8 988.8,457.2 991.3,458.3C993.8,459.4 996.9,460 998,463.3C999.1,466.7 999.7,475.6 998,478.3C996.3,481.1 990.8,480.6 988,480C985.2,479.4 982.7,477.8 981.3,475C979.9,472.2 979.4,466.4 979.7,463.3Z" fill="#124984"/>
<path d="M790.7,338.3C790.7,336.1 792.8,333.8 794.7,332.7C796.6,331.6 799.8,331 802,331.7C804.2,332.3 807.1,334.7 808,336.7C808.9,338.6 808.4,341.6 807.3,343.3C806.2,345.1 803.4,346.9 801.3,347.3C799.2,347.8 796.4,347.5 794.7,346C792.9,344.5 790.7,340.6 790.7,338.3Z" fill="#124984"/>
<path d="M759.7,586.7C759.9,584.2 762.2,582.5 764.7,583.3C767.2,584.2 771.3,589.2 774.7,591.7C778,594.2 781.3,596.1 784.7,598.3C788,600.6 792.7,602.5 794.7,605C796.6,607.5 797.4,611.4 796.3,613.3C795.2,615.3 791.1,616.9 788,616.7C784.9,616.4 781.1,613.6 778,611.7C774.9,609.7 772.2,607.2 769.7,605C767.2,602.8 764.7,601.4 763,598.3C761.3,595.3 759.4,589.2 759.7,586.7Z" fill="#124984"/>
<path d="M125,580C126.9,570 132.5,576.1 136.7,576.7C140.8,577.2 146.1,580 150,583.3C153.9,586.7 157.2,592.2 160,596.7C162.8,601.1 166.1,605.6 166.7,610C167.2,614.4 165.6,619.4 163.3,623.3C161.1,627.2 159.7,631.1 153.3,633.3C146.9,635.6 129.7,645.6 125,636.7C120.3,627.8 123.1,590 125,580Z" fill="#124984"/>
<path d="M225,586.7C226.1,584.4 234.7,583.1 240,583.3C245.3,583.6 251.7,586.7 256.7,588.3C261.7,590 265.6,593.1 270,593.3C274.4,593.6 280.6,588.9 283.3,590C286.1,591.1 287.2,596.1 286.7,600C286.1,603.9 280,608.9 280,613.3C280,617.8 283.3,622.8 286.7,626.7C290,630.6 307.8,635 300,636.7C292.2,638.3 248.9,639.4 240,636.7C231.1,633.9 246.1,625 246.7,620C247.2,615 245.6,610.6 243.3,606.7C241.1,602.8 236.4,600 233.3,596.7C230.3,593.3 223.9,588.9 225,586.7Z" fill="#124984"/>
<path d="M280,626.7C282.2,623.3 288.3,619.2 293.3,616.7C298.3,614.2 303.9,612.2 310,611.7C316.1,611.1 323.9,611.9 330,613.3C336.1,614.7 341.1,619.4 346.7,620C352.2,620.6 360.6,613.9 363.3,616.7C366.1,619.4 363.3,636.7 363.3,636.7L280,636.7C280,636.7 277.8,630 280,626.7Z" fill="#124984"/>
<path d="M377.9,557.9L621.7,557.9C621.7,557.9 623.1,557.6 623.8,560C624.4,562.4 626,568 625.8,572.5C625.7,577 624.4,583.3 622.7,587.1C621,590.9 618,593.7 615.4,595.4C612.8,597.2 609.5,596.5 607.1,597.5C604.7,598.5 601.9,598.9 600.8,601.7C599.8,604.4 600.5,610 600.8,614.2C601.2,618.3 601.9,623.2 602.9,626.7C604,630.1 605.3,632.2 607.1,635C608.8,637.8 611.6,640.9 613.3,643.3C615.1,645.8 615.8,648.2 617.5,649.6C619.2,651 621.7,652 623.8,651.7C625.8,651.3 628.1,649.2 630,647.5C631.9,645.8 633.1,641.6 635.2,641.2C637.3,640.9 639.9,645.1 642.5,645.4C645.1,645.8 647.9,644.4 650.8,643.3C653.8,642.3 657.9,639.9 660,639.2C662.1,638.5 662.8,629.1 663.3,639.2C663.9,649.2 665.4,689.2 663.3,699.6C661.2,710 654.3,700.6 650.8,701.7C647.4,702.7 644.9,703.8 642.5,705.8C640.1,707.9 638.7,711.7 636.2,714.2C633.8,716.6 629,720.4 627.9,720.4C626.9,720.4 630,716.9 630,714.2C630,711.4 630.3,705.1 627.9,703.8C625.5,702.4 617.8,704.4 615.4,705.8C613,707.2 614.4,709.7 613.3,712.1C612.3,714.5 610.9,718.7 609.2,720.4C607.4,722.2 605,721.5 602.9,722.5C600.8,723.5 598.4,724.9 596.7,726.7C594.9,728.4 593.9,732.6 592.5,732.9C591.1,733.3 590.1,729.8 588.3,728.8C586.6,727.7 584.5,726 582.1,726.7C579.7,727.4 576.4,731.2 573.8,732.9C571.1,734.7 567.5,737.8 566.5,737.1C565.4,736.4 568,731.5 567.5,728.8C567,726 565.1,722.5 563.3,720.4C561.6,718.3 558.8,718 557.1,716.2C555.3,714.5 552.9,711.7 552.9,710C552.9,708.3 555.3,707.2 557.1,705.8C558.8,704.4 563,703.8 563.3,701.7C563.7,699.6 560.9,696.1 559.2,693.3C557.4,690.6 555.3,687.4 552.9,685C550.5,682.6 546.7,681.2 544.6,678.8C542.5,676.3 541.3,673.5 540.4,670.4C539.5,667.3 539.7,663.1 539.4,660C539,656.9 539.7,652.7 538.3,651.7C536.9,650.6 532.6,652.4 531,653.8C529.5,655.1 529.8,656.9 529,660C528.1,663.1 526.7,669 525.8,672.5C525,676 524.1,677.4 523.8,680.8C523.4,684.3 523.6,689.5 523.8,693.3C523.9,697.2 524.1,700.3 524.8,703.8C525.5,707.2 526.7,710.3 527.9,714.2C529.1,718 531,722.8 532.1,726.7C533.1,730.5 535.2,735.3 534.2,737.1C533.1,738.8 528.3,737.4 525.8,737.1C523.4,736.7 521.7,736 519.6,735C517.5,734 515.4,732.2 513.3,730.8C511.3,729.4 509.2,727.7 507.1,726.7C505,725.6 503.6,724.9 500.8,724.6C498.1,724.2 493.9,724.6 490.4,724.6C486.9,724.6 483.5,724.9 480,724.6C476.5,724.2 472.4,724.2 469.6,722.5C466.8,720.8 465.4,717.3 463.3,714.2C461.3,711 458.8,706.9 457.1,703.8C455.3,700.6 455,698.5 452.9,695.4C450.8,692.3 447.4,687.4 444.6,685C441.8,682.6 438.3,680.8 436.2,680.8C434.2,680.8 433.5,682.9 432.1,685C430.7,687.1 429.7,693 427.9,693.3C426.2,693.7 423.8,687.8 421.7,687.1C419.6,686.4 417.8,687.4 415.4,689.2C413,690.9 409.9,695.4 407.1,697.5C404.3,699.6 401.4,701.3 398.8,701.7C396.1,702 392.5,701.3 391.5,699.6C390.4,697.8 391.6,694.4 392.5,691.2C393.4,688.1 395.3,684 396.7,680.8C398.1,677.7 399.1,674.6 400.8,672.5C402.6,670.4 405,670.4 407.1,668.3C409.2,666.2 412.6,662.8 413.3,660C414,657.2 412.6,653.4 411.2,651.7C409.9,649.9 407.4,650.3 405,649.6C402.6,648.9 398.8,649.2 396.7,647.5C394.6,645.8 393.7,642.3 392.5,639.2C391.3,636 389.7,632.2 389.4,628.8C389,625.3 389.9,621.8 390.4,618.3C390.9,614.9 392.8,611.4 392.5,607.9C392.2,604.4 389.7,600.3 388.3,597.5C386.9,594.7 385.9,592.3 384.2,591.2C382.4,590.2 379,596.8 377.9,591.2C376.9,585.7 377.9,557.9 377.9,557.9Z" fill="#124984"/>
<path d="M171.9,983.8C170.8,978.9 174.5,967.6 177.1,964C179.7,960.3 184,961.4 187.5,961.9C191,962.4 195.1,964.8 197.9,967.1C200.7,969.3 201.7,973.3 204.2,975.4C206.6,977.5 209.9,978.2 212.5,979.6C215.1,981 218.8,981.3 219.8,983.8C220.8,986.2 220,991 218.8,994.2C217.5,997.3 214.9,1001.8 212.5,1002.5C210.1,1003.2 207.3,999.4 204.2,998.3C201,997.3 197.2,997.1 193.8,996.2C190.3,995.4 187,995.2 183.3,993.1C179.7,991 172.9,988.6 171.9,983.8Z" fill="#124984"/>
<path d="M379,952.5C381.2,943.5 388.2,954.9 392.5,956.7C396.8,958.4 401.2,960.5 405,962.9C408.8,965.3 412.6,967.8 415.4,971.2C418.2,974.7 419.6,979.6 421.7,983.8C423.8,987.9 424.8,991.7 427.9,996.2C431,1000.8 448.6,1008.4 440.4,1010.8C432.3,1013.3 389.2,1020.6 379,1010.8C368.7,1001.1 376.7,961.5 379,952.5Z" fill="#124984"/>
<path d="M924.3,366.7C924.7,362.8 925.3,357.2 926.7,353.3C928.1,349.4 930,345.7 932.7,343.3C935.3,341 939.1,339.8 942.7,339.3C946.3,338.9 951,339.4 954.3,340.7C957.7,341.9 960.6,343.7 962.7,346.7C964.7,349.6 966.2,354.4 966.7,358.3C967.1,362.2 966.3,366.1 965.3,370C964.4,373.9 963.1,378.3 961,381.7C958.9,385 955.7,387.8 952.7,390C949.6,392.2 945.7,394.4 942.7,395C939.6,395.6 936.8,394.7 934.3,393.3C931.8,391.9 929.3,389.4 927.7,386.7C926,383.9 924.9,380 924.3,376.7C923.8,373.3 923.9,370.6 924.3,366.7Z" fill="#053061"/>
<path d="M410,855C411.1,854.7 416.9,862.8 420,865C423.1,867.2 426.1,869.4 428.3,868.3C430.6,867.2 431.7,861.1 433.3,858.3C435,855.6 436.1,852.9 438.3,851.7C440.6,850.4 443.9,850.1 446.7,850.7C449.4,851.2 452.8,852.6 455,855C457.2,857.4 460.3,863.9 460,865C459.7,866.1 455.6,862.8 453.3,861.7C451.1,860.6 448.9,858.1 446.7,858.3C444.4,858.6 441.9,860.8 440,863.3C438.1,865.8 436.9,871.1 435,873.3C433.1,875.6 430.8,876.7 428.3,876.7C425.8,876.7 422.5,875 420,873.3C417.5,871.7 415,869.7 413.3,866.7C411.7,863.6 408.9,855.3 410,855Z" fill="#053061"/>
<path d="M280,626.7C281.4,624.4 286.1,621.4 290,620C293.9,618.6 298.9,618.1 303.3,618.3C307.8,618.6 312.2,620 316.7,621.7C321.1,623.3 327.2,625.6 330,628.3C332.8,631.1 333.9,635.6 333.3,638.3C332.8,641.1 330,643.6 326.7,645C323.3,646.4 317.8,646.9 313.3,646.7C308.9,646.4 304.2,644.7 300,643.3C295.8,641.9 291.4,640 288.3,638.3C285.3,636.7 283.1,635.3 281.7,633.3C280.3,631.4 278.6,628.9 280,626.7Z" fill="#053061"/>
<path d="M281.7,958.3C283.1,956.1 290.3,954.2 293.3,955C296.4,955.8 299.7,960.8 300,963.3C300.3,965.8 297.5,969.2 295,970C292.5,970.8 287.2,970.3 285,968.3C282.8,966.4 280.3,960.6 281.7,958.3Z" fill="#053061"/>
<path d="M363.3,970C364.2,966.4 366.9,962.5 370,961.7C373.1,960.8 377.8,964.7 381.7,965C385.6,965.3 390,961.9 393.3,963.3C396.7,964.7 400.6,969.2 401.7,973.3C402.8,977.5 401.7,984.2 400,988.3C398.3,992.5 395,997.2 391.7,998.3C388.3,999.4 383.6,996.1 380,995C376.4,993.9 372.5,993.6 370,991.7C367.5,989.7 366.1,986.9 365,983.3C363.9,979.7 362.5,973.6 363.3,970Z" fill="#053061"/>
<path d="M376.7,215L553.3,216L553.3,543.3C553.3,543.3 536.1,543.3 530,545C523.9,546.7 519.4,549.7 516.7,553.3C513.9,556.9 515,562.2 513.3,566.7C511.7,571.1 508.9,576.1 506.7,580C504.4,583.9 501.7,586.1 500,590C498.3,593.9 496.1,599.4 496.7,603.3C497.2,607.2 500.6,610.6 503.3,613.3C506.1,616.1 512.8,616.1 513.3,620C513.9,623.9 514.4,636.1 506.7,636.7C498.9,637.2 475.6,626.7 466.7,623.3C457.8,620 457.8,620 453.3,616.7C448.9,613.3 444.4,607.2 440,603.3C435.6,599.4 431.7,595.3 426.7,593.3C421.7,591.4 415,592.8 410,591.7C405,590.6 400.6,589.2 396.7,586.7C392.8,584.2 389.4,580 386.7,576.7C383.9,573.3 381.7,570.6 380,566.7C378.3,562.8 378.3,556.9 376.7,553.3C375,549.7 377.2,546.7 370,545C362.8,543.3 333.3,543.3 333.3,543.3L333.3,366.7C333.3,366.7 343.3,362.8 346.7,360C350,357.2 353.9,352.8 353.3,350C352.8,347.2 346.7,346.1 343.3,343.3C340,340.6 332.8,336.7 333.3,333.3C333.9,330 342.2,326.1 346.7,323.3C351.1,320.6 355.6,318.9 360,316.7C364.4,314.4 369.4,312.8 373.3,310C377.2,307.2 382.8,303.3 383.3,300C383.9,296.7 378.9,293.3 376.7,290C374.4,286.7 371.7,283.9 370,280C368.3,276.1 367.5,271.7 366.7,266.7C365.8,261.7 365,255.6 365,250C365,244.4 365.8,238.9 366.7,233.3C367.5,227.8 368.3,219.7 370,216.7C371.7,213.6 376.7,215 376.7,215Z" fill="#053061"/>
<path d="M130,466.7C130.6,452.2 131.1,441.1 131.7,433.3C132.2,425.6 131.9,423.3 133.3,420C134.7,416.7 137.2,413.9 140,413.3C142.8,412.8 146.9,414.4 150,416.7C153.1,418.9 155.6,422.8 158.3,426.7C161.1,430.6 163.6,436.4 166.7,440C169.7,443.6 172.8,446.1 176.7,448.3C180.6,450.6 187.5,453.6 190,453.3C192.5,453.1 192.8,450.6 191.7,446.7C190.6,442.8 185.8,435.6 183.3,430C180.8,424.4 177.2,418.3 176.7,413.3C176.1,408.3 177.8,403.9 180,400C182.2,396.1 186.1,392.2 190,390C193.9,387.8 199.4,386.1 203.3,386.7C207.2,387.2 211.1,390 213.3,393.3C215.6,396.7 215,402.2 216.7,406.7C218.3,411.1 220.6,415.6 223.3,420C226.1,424.4 230,428.9 233.3,433.3C236.7,437.8 239.4,443.3 243.3,446.7C247.2,450 251.7,451.7 256.7,453.3C261.7,455 268.3,456.7 273.3,456.7C278.3,456.7 282.2,455 286.7,453.3C291.1,451.7 296.7,450 300,446.7C303.3,443.3 304.4,437.2 306.7,433.3C308.9,429.4 310,425.3 313.3,423.3C316.7,421.4 321.7,421.9 326.7,421.7C331.7,421.4 341.7,424.2 343.3,421.7C345,419.2 338.3,412.5 336.7,406.7C335,400.8 333.9,393.6 333.3,386.7C332.8,379.7 332.7,368.6 333.3,365C334,361.4 337.3,365 337.3,365L337.3,545C337.3,545 321.8,543.6 313.3,543.3C304.9,543.1 293.3,543.9 286.7,543.3C280,542.8 277.8,541.7 273.3,540C268.9,538.3 263.9,536.7 260,533.3C256.1,530 252.8,523.9 250,520C247.2,516.1 246.1,513.6 243.3,510C240.6,506.4 237.2,500.6 233.3,498.3C229.4,496.1 224.4,495.8 220,496.7C215.6,497.5 210.6,500.8 206.7,503.3C202.8,505.8 200,510 196.7,511.7C193.3,513.3 189.4,515.3 186.7,513.3C183.9,511.4 183.3,502.5 180,500C176.7,497.5 170,497.2 166.7,498.3C163.3,499.4 162.8,503.1 160,506.7C157.2,510.3 153.3,516.9 150,520C146.7,523.1 143.6,525 140,525C136.4,525 130,529.7 128.3,520C126.7,510.3 129.4,481.1 130,466.7Z" fill="#053061"/>
<path d="M230,340C228.9,337.8 230.6,334.7 233.3,333.3C236.1,331.9 242.2,331.1 246.7,331.7C251.1,332.2 255.6,334.7 260,336.7C264.4,338.6 268.9,341.1 273.3,343.3C277.8,345.6 282.2,347.8 286.7,350C291.1,352.2 295,355 300,356.7C305,358.3 311.1,358.6 316.7,360C322.2,361.4 330.6,360.6 333.3,365C336.1,369.4 336.7,381.4 333.3,386.7C330,391.9 318.9,396.7 313.3,396.7C307.8,396.7 303.9,389.4 300,386.7C296.1,383.9 293.3,381.9 290,380C286.7,378.1 283.9,376.1 280,375C276.1,373.9 270,375.3 266.7,373.3C263.3,371.4 262.2,366.9 260,363.3C257.8,359.7 256.7,354.4 253.3,351.7C250,348.9 243.9,348.6 240,346.7C236.1,344.7 231.1,342.2 230,340Z" fill="#053061"/>
<path d="M142.7,219.8C144.4,220 149.8,225.9 153.1,226C156.4,226.2 159.7,223.6 162.5,220.8C165.3,218.1 168.1,211.3 169.8,209.4C171.5,207.5 170.5,206.9 172.9,209.4C175.3,211.8 183.2,219.6 184.4,224C185.6,228.3 182.1,232.3 180.2,235.4C178.3,238.5 175.5,242.9 172.9,242.7C170.3,242.5 166.8,237 164.6,234.4C162.3,231.8 161.8,228.1 159.4,227.1C156.9,226 152.8,228.5 150,228.1C147.2,227.8 143.9,226.4 142.7,225C141.5,223.6 141,219.6 142.7,219.8Z" fill="#053061"/>
<path d="M208.3,239.6C209.2,236.8 219.8,232.6 224,228.1C228.1,223.6 229.7,214.6 233.3,212.5C237,210.4 240.1,213.5 245.8,215.6C251.6,217.7 264.6,219.6 267.7,225C270.8,230.4 266.1,242 264.6,247.9C263,253.8 260.1,256.6 258.3,260.4C256.6,264.2 255.9,269.4 254.2,270.8C252.4,272.2 249.3,271.9 247.9,268.8C246.5,265.6 246.5,256.6 245.8,252.1C245.1,247.6 245.5,243.4 243.8,241.7C242,239.9 238.2,240.3 235.4,241.7C232.6,243.1 229.9,249.5 227.1,250C224.3,250.5 221.9,246.5 218.8,244.8C215.6,243.1 207.5,242.4 208.3,239.6Z" fill="#053061"/>
<path d="M287.5,225C288.9,223.1 293.2,221.5 295.8,224C298.4,226.4 300.7,235.6 303.1,239.6C305.6,243.6 308.9,248.6 310.4,247.9C312,247.2 311.1,240.3 312.5,235.4C313.9,230.6 316,220.5 318.8,218.8C321.5,217 325.7,222.6 329.2,225C332.6,227.4 338.2,230.2 339.6,233.3C341,236.5 336.8,240.3 337.5,243.8C338.2,247.2 340.8,254 343.8,254.2C346.7,254.3 353.3,243.8 355.2,244.8C357.1,245.8 356.1,256.1 355.2,260.4C354.3,264.8 349.1,267.7 350,270.8C350.9,274 359.9,274.7 360.4,279.2C360.9,283.7 355.9,293.8 353.1,297.9C350.3,302.1 347,304.9 343.8,304.2C340.5,303.5 336.6,295.8 333.3,293.8C330,291.7 325.5,293.4 324,291.7C322.4,289.9 325.2,285.2 324,283.3C322.7,281.4 319.3,280.2 316.7,280.2C314.1,280.2 310.1,281.4 308.3,283.3C306.6,285.2 307.6,290.6 306.2,291.7C304.9,292.7 302.1,291.7 300,289.6C297.9,287.5 297.6,280.7 293.8,279.2C289.9,277.6 283,278.5 277.1,280.2C271.2,281.9 262.5,289.1 258.3,289.6C254.2,290.1 250.7,286.1 252.1,283.3C253.5,280.6 261.8,276 266.7,272.9C271.5,269.8 275.7,268.1 281.2,264.6C286.8,261.1 297.6,255.9 300,252.1C302.4,248.3 297.9,244.4 295.8,241.7C293.8,238.9 288.9,238.2 287.5,235.4C286.1,232.6 286.1,226.9 287.5,225Z" fill="#053061"/>
<path d="M368.8,216.7C371.5,214.9 380.9,204.5 383.3,214.6C385.8,224.7 385.4,267.7 383.3,277.1C381.3,286.5 373.8,274 370.8,270.8C367.9,267.7 366.7,263.2 365.6,258.3C364.6,253.5 364.4,247.2 364.6,241.7C364.8,236.1 366,229.2 366.7,225C367.4,220.8 366,218.4 368.8,216.7Z" fill="#053061"/>
<path d="M155.2,278.1C156.9,274.8 159.9,268.9 164.6,267.7C169.3,266.5 178.8,268.4 183.3,270.8C187.8,273.3 188.5,278.5 191.7,282.3C194.8,286.1 198.1,290.8 202.1,293.8C206.1,296.7 213.4,297.9 215.6,300C217.9,302.1 218.2,304.9 215.6,306.2C213,307.6 204,309.7 200,308.3C196,306.9 195.5,300.3 191.7,297.9C187.8,295.5 180.4,293.4 177.1,293.8C173.8,294.1 172.6,297.7 171.9,300C171.2,302.3 174.5,305.6 172.9,307.3C171.4,309 165.3,311.6 162.5,310.4C159.7,309.2 156.6,302.8 156.2,300C155.9,297.2 160.8,295.8 160.4,293.8C160.1,291.7 155,290.1 154.2,287.5C153.3,284.9 153.5,281.4 155.2,278.1Z" fill="#053061"/>
<path d="M189.6,256.2C189.2,253.3 193.9,248.3 197.9,251C201.9,253.8 211.8,268.1 213.5,272.9C215.3,277.8 210.6,280.9 208.3,280.2C206.1,279.5 203.1,272.7 200,268.8C196.9,264.8 189.9,259.2 189.6,256.2Z" fill="#053061"/>
<path d="M137.5,312.5C139.7,310.6 145.8,317.5 150,317.7C154.2,317.9 160.9,312.3 162.5,313.5C164.1,314.8 158.3,321.7 159.4,325C160.4,328.3 166.3,329.9 168.8,333.3C171.2,336.8 175,344.1 174,345.8C172.9,347.6 166.1,343.1 162.5,343.8C158.9,344.4 155.6,348.1 152.1,350C148.6,351.9 144.4,355 141.7,355.2C138.9,355.4 136.2,355.4 135.4,351C134.7,346.7 136.7,335.6 137.1,329.2C137.4,322.7 135.3,314.4 137.5,312.5Z" fill="#053061"/>
<path d="M187.5,339.6C186.8,338 189.9,327.8 191.7,325C193.4,322.2 195.7,321.9 197.9,322.9C200.2,324 205.6,329.3 205.2,331.2C204.9,333.2 198.8,333 195.8,334.4C192.9,335.8 188.2,341.1 187.5,339.6Z" fill="#053061"/>
<path d="M541.3,213.3L677,213.3C677,213.3 677.6,223 679,227C680.4,231 682.6,232.1 685.3,237.3C688.1,242.6 692.9,253.4 695.7,258.3C698.4,263.2 699.2,264.6 702,266.7C704.8,268.7 710.2,267.9 712.3,270.7C714.4,273.4 713.2,279 714.7,283.3C716.2,287.7 719.9,292.2 721.3,296.7C722.7,301.1 723.6,306.1 723,310C722.4,313.9 719.4,316.1 718,320C716.6,323.9 714.9,328.9 714.7,333.3C714.4,337.8 715.2,342.8 716.3,346.7C717.4,350.6 721.1,352.8 721.3,356.7C721.6,360.6 719.4,365.6 718,370C716.6,374.4 714.4,378.9 713,383.3C711.6,387.8 711.1,391.7 709.7,396.7C708.3,401.7 705.5,408.9 704.7,413.3C703.8,417.8 703.6,420 704.7,423.3C705.8,426.7 713.6,431.4 711.3,433.3C709.1,435.3 694.7,431.7 691.3,435C688,438.3 693,449.7 691.3,453.3C689.7,456.9 685.2,455 681.3,456.7C677.4,458.3 671.9,462.8 668,463.3C664.1,463.9 660.8,459.4 658,460C655.2,460.6 653,463.3 651.3,466.7C649.7,470 647.4,476.1 648,480C648.6,483.9 654.7,486.7 654.7,490C654.7,493.3 650.8,496.7 648,500C645.2,503.3 640.8,506.7 638,510C635.2,513.3 633,516.1 631.3,520C629.7,523.9 630.2,529.4 628,533.3C625.8,537.2 621.9,541.1 618,543.3C614.1,545.6 608.6,545.6 604.7,546.7C600.8,547.8 598.6,550 594.7,550C590.8,550 585.8,547.8 581.3,546.7C576.9,545.6 571.9,543.6 568,543.3C564.1,543.1 562.4,544.4 558,545C553.6,545.6 541.3,546.7 541.3,546.7L541.3,213.3Z" fill="#053061"/>
<path d="M693,436.7C696.1,432.8 706.1,433.2 711.3,433.3C716.6,433.4 721.6,435.1 724.7,437.3C727.7,439.6 729.1,443.4 729.7,446.7C730.2,449.9 729.4,453.9 728,456.7C726.6,459.4 724.7,461.7 721.3,463.3C718,465 711.9,466.7 708,466.7C704.1,466.7 700.5,465 698,463.3C695.5,461.7 693.8,461.1 693,456.7C692.2,452.2 689.9,440.6 693,436.7Z" fill="#053061"/>
<path d="M693,493.3C694.9,487.2 701.1,495.8 704.7,496.7C708.3,497.5 711.9,496.7 714.7,498.3C717.4,500 720.8,503.1 721.3,506.7C721.9,510.3 719.7,516.1 718,520C716.3,523.9 714.1,527.5 711.3,530C708.6,532.5 704.4,534.4 701.3,535C698.3,535.6 694.4,540.3 693,533.3C691.6,526.4 691.1,499.4 693,493.3Z" fill="#053061"/>
<path d="M729.7,287.3C730.2,285.3 734.3,285.3 736.3,286C738.4,286.7 741.4,289.6 742,291.7C742.6,293.7 741.2,297.2 739.7,298.3C738.2,299.4 734.7,300.2 733,298.3C731.3,296.5 729.1,289.4 729.7,287.3Z" fill="#053061"/>
<path d="M126.7,586.7C128.3,582.2 136.1,585 140,586.7C143.9,588.3 147.8,592.8 150,596.7C152.2,600.6 154.4,606.7 153.3,610C152.2,613.3 147.2,616.1 143.3,616.7C139.4,617.2 132.8,618.3 130,613.3C127.2,608.3 125,591.1 126.7,586.7Z" fill="#053061"/>
<path d="M377.9,557.9L496.7,557.9C496.7,557.9 501.5,564.9 502.9,568.3C504.3,571.8 505.7,575.6 505,578.8C504.3,581.9 500.1,584.3 498.8,587.1C497.4,589.9 496,593 496.7,595.4C497.4,597.8 501.5,598.9 502.9,601.7C504.3,604.4 505.3,608.6 505,612.1C504.7,615.6 501.2,619.4 500.8,622.5C500.5,625.6 503.6,628.1 502.9,630.8C502.2,633.6 498.8,637.1 496.7,639.2C494.6,641.2 492.5,641.6 490.4,643.3C488.3,645.1 485.9,647.2 484.2,649.6C482.4,652 481,654.8 480,657.9C479,661 478.6,665.2 477.9,668.3C477.2,671.5 476.9,673.9 475.8,676.7C474.8,679.4 473.1,682.2 471.7,685C470.3,687.8 468.9,691.2 467.5,693.3C466.1,695.4 463,695.4 463.3,697.5C463.7,699.6 466.8,703.8 469.6,705.8C472.4,707.9 476.9,710 480,710C483.1,710 486.3,705.1 488.3,705.8C490.4,706.5 493.2,712.1 492.5,714.2C491.8,716.3 487.3,716.9 484.2,718.3C481,719.7 476.5,722.5 473.8,722.5C471,722.5 469.2,720.4 467.5,718.3C465.8,716.2 464.7,712.8 463.3,710C461.9,707.2 460.6,704.4 459.2,701.7C457.8,698.9 456.7,696.1 455,693.3C453.3,690.6 451.2,687.8 448.8,685C446.3,682.2 443.2,679.4 440.4,676.7C437.6,673.9 434.7,671.5 432.1,668.3C429.5,665.2 426.4,661.4 424.8,657.9C423.2,654.4 422.5,651 422.7,647.5C422.9,644 424.3,640.2 425.8,637.1C427.4,634 430.3,631.5 432.1,628.8C433.8,626 436.6,622.8 436.2,620.4C435.9,618 432.4,615.6 430,614.2C427.6,612.8 424.8,612.1 421.7,612.1C418.5,612.1 414.7,614.2 411.2,614.2C407.8,614.2 404,613.5 400.8,612.1C397.7,610.7 394.6,608.3 392.5,605.8C390.4,603.4 389.7,599.9 388.3,597.5C386.9,595.1 385.9,592.6 384.2,591.2C382.4,589.9 379,594.7 377.9,589.2C376.9,583.6 377.9,557.9 377.9,557.9Z" fill="#053061"/>
<path d="M546.7,610C547.4,608.3 550.8,610.3 552.9,612.1C555,613.8 556.7,617.6 559.2,620.4C561.6,623.2 564.4,626.7 567.5,628.8C570.6,630.8 574.4,632.2 577.9,632.9C581.4,633.6 585.2,632.2 588.3,632.9C591.5,633.6 594.6,635.3 596.7,637.1C598.8,638.8 599.1,641.6 600.8,643.3C602.6,645.1 605.5,644.7 607.1,647.5C608.6,650.3 610,656.5 610.2,660C610.4,663.5 609,665.6 608.1,668.3C607.3,671.1 606.2,674.2 605,676.7C603.8,679.1 602.2,680.8 600.8,682.9C599.4,685 598.8,687.4 596.7,689.2C594.6,690.9 591.1,691.9 588.3,693.3C585.6,694.7 582.1,695.4 580,697.5C577.9,699.6 577.6,704.8 575.8,705.8C574.1,706.9 571.3,705.8 569.6,703.8C567.8,701.7 566.8,696.5 565.4,693.3C564,690.2 563.3,687.4 561.2,685C559.2,682.6 553.6,680.8 552.9,678.8C552.2,676.7 557.1,674.6 557.1,672.5C557.1,670.4 554.3,668.3 552.9,666.2C551.5,664.2 548.8,662.4 548.8,660C548.8,657.6 552.6,654.4 552.9,651.7C553.3,648.9 550.8,646.5 550.8,643.3C550.8,640.2 553.3,636.4 552.9,632.9C552.6,629.4 549.8,626.3 548.8,622.5C547.7,618.7 546,611.7 546.7,610Z" fill="#053061"/>
<path d="M577.9,557.9C583.5,555.8 604.3,555.8 609.2,557.9C614,560 608.5,566.6 607.1,570.4C605.7,574.2 602.9,577.4 600.8,580.8C598.8,584.3 596.7,587.8 594.6,591.2C592.5,594.7 589,598.2 588.3,601.7C587.6,605.1 589,608.6 590.4,612.1C591.8,615.6 595.3,619.4 596.7,622.5C598.1,625.6 600.1,629.3 598.8,630.8C597.4,632.4 591.5,632.2 588.3,631.9C585.2,631.5 582.1,630.7 580,628.8C577.9,626.8 577.2,623.2 575.8,620.4C574.4,617.6 573.1,615.2 571.7,612.1C570.3,609 568,605.1 567.5,601.7C567,598.2 567.8,594.7 568.5,591.2C569.2,587.8 570.5,584.3 571.7,580.8C572.9,577.4 574.8,574.2 575.8,570.4C576.9,566.6 572.4,560 577.9,557.9Z" fill="#053061"/>
<path d="M380,313.3C381.7,311.1 386.7,308.1 390,308.3C393.3,308.6 396.1,315.3 400,315C403.9,314.7 409.6,306.7 413.3,306.7C417.1,306.7 421.3,311.7 422.7,315C424.1,318.3 423.8,323.9 421.7,326.7C419.6,329.4 414.2,331.4 410,331.7C405.8,331.9 400.6,329.4 396.7,328.3C392.8,327.2 389.4,326.1 386.7,325C383.9,323.9 381.1,323.6 380,321.7C378.9,319.7 378.3,315.6 380,313.3Z" fill="#124984"/>
<path d="M381.7,463.3C381.5,460.4 383.1,457.4 385,456C386.9,454.6 391.3,453.8 393.3,455C395.4,456.2 397.3,460.6 397.3,463.3C397.3,466.1 395.2,470 393.3,471.7C391.4,473.3 387.9,474.7 386,473.3C384.1,471.9 381.8,466.2 381.7,463.3Z" fill="#124984"/>
<path d="M385,506.7C386.1,505 390.3,503.3 393.3,505C396.4,506.7 400,512.5 403.3,516.7C406.7,520.8 411.1,525.6 413.3,530C415.6,534.4 417.8,540.8 416.7,543.3C415.6,545.8 409.4,546.7 406.7,545C403.9,543.3 402.2,536.9 400,533.3C397.8,529.7 395.6,526.4 393.3,523.3C391.1,520.3 388.1,517.8 386.7,515C385.3,512.2 383.9,508.3 385,506.7Z" fill="#124984"/>
<path d="M495,536.7C496.4,532.8 500.8,532.2 503.3,533.3C505.8,534.4 509.2,538.9 510,543.3C510.8,547.8 510,555.6 508.3,560C506.7,564.4 502.2,570.6 500,570C497.8,569.4 495.8,562.2 495,556.7C494.2,551.1 493.6,540.6 495,536.7Z" fill="#124984"/>
<path d="M313.3,498.3C314.4,496.1 318.9,492.5 323.3,491.7C327.8,490.8 335,493.6 340,493.3C345,493.1 348.9,489.7 353.3,490C357.8,490.3 363.3,493.3 366.7,495C370,496.7 373.9,497.5 373.3,500C372.8,502.5 366.7,506.9 363.3,510C360,513.1 356.7,516.7 353.3,518.3C350,520 346.7,520.8 343.3,520C340,519.2 336.7,515.3 333.3,513.3C330,511.4 326.1,509.7 323.3,508.3C320.6,506.9 318.3,506.7 316.7,505C315,503.3 312.2,500.6 313.3,498.3Z" fill="#124984"/>
<path d="M456.2,216.7C456.2,216.7 464.9,214.2 468.8,216.7C472.6,219.1 475,227.8 479.2,231.2C483.3,234.7 490.1,234 493.8,237.5C497.4,241 500.3,247.2 501,252.1C501.7,256.9 499.5,260.8 497.9,266.7C496.4,272.6 492.5,281.2 491.7,287.5C490.8,293.8 491.7,298.6 492.7,304.2C493.8,309.7 496.5,316 497.9,320.8C499.3,325.7 500.3,329.2 501,333.3C501.7,337.5 501.6,341.7 502.1,345.8C502.6,350 504.9,355.2 504.2,358.3C503.5,361.5 500,362.2 497.9,364.6C495.8,367 492.2,369.4 491.7,372.9C491.1,376.4 493.9,380.9 494.8,385.4C495.7,389.9 495.8,396.5 496.9,400C497.9,403.5 499.1,405.7 501,406.2C503,406.8 505.9,405.2 508.3,403.1C510.8,401 513.9,397 515.6,393.8C517.4,390.5 518.6,386.8 518.8,383.3C518.9,379.9 516.3,375.7 516.7,372.9C517,370.1 519.3,366.7 520.8,366.7C522.4,366.7 524.7,369.4 526,372.9C527.4,376.4 528.3,383 529.2,387.5C530,392 530,397.6 531.2,400C532.5,402.4 535.6,404.2 536.5,402.1C537.3,400 537.2,392.7 536.5,387.5C535.8,382.3 533.9,375.7 532.3,370.8C530.7,366 528.1,362.2 527.1,358.3C526,354.5 525,350 526,347.9C527.1,345.8 530.4,345.8 533.3,345.8C536.3,345.8 540.3,347.9 543.8,347.9C547.2,347.9 550.3,345.5 554.2,345.8C558,346.2 562.8,350 566.7,350C570.5,350 575,344.4 577.1,345.8C579.2,347.2 577.8,354.9 579.2,358.3C580.6,361.8 583,365.6 585.4,366.7C587.8,367.7 591.3,366 593.8,364.6C596.2,363.2 598.1,360.8 600,358.3C601.9,355.9 603.8,352.8 605.2,350C606.6,347.2 607.1,344.4 608.3,341.7C609.5,338.9 611.5,336.5 612.5,333.3C613.5,330.2 614.1,326 614.6,322.9C615.1,319.8 616,318.1 615.6,314.6C615.3,311.1 613.7,306.6 612.5,302.1C611.3,297.6 609.7,292 608.3,287.5C606.9,283 605.7,279.2 604.2,275C602.6,270.8 600.7,266.3 599,262.5C597.2,258.7 595.7,255.2 593.8,252.1C591.8,249 589.9,246.9 587.5,243.8C585.1,240.6 581.6,236.8 579.2,233.3C576.7,229.9 574.3,225.7 572.9,222.9C571.5,220.1 570.8,216.7 570.8,216.7L456.2,216.7Z" fill="#124984"/>
<path d="M570.8,216.7L650,216.7C650,216.7 645.8,223.6 643.8,227.1C641.7,230.6 638.2,234 637.5,237.5C636.8,241 639.4,244.4 639.6,247.9C639.8,251.4 639.9,255.9 638.5,258.3C637.2,260.8 633.5,261.1 631.2,262.5C629,263.9 626.9,265.1 625,266.7C623.1,268.2 621.2,272.6 619.8,271.9C618.4,271.2 618.2,265.5 616.7,262.5C615.1,259.5 612.5,256.6 610.4,254.2C608.3,251.7 606.6,250 604.2,247.9C601.7,245.8 598.6,243.8 595.8,241.7C593.1,239.6 590.3,237.8 587.5,235.4C584.7,233 581.9,230.2 579.2,227.1C576.4,224 570.8,216.7 570.8,216.7Z" fill="#124984"/>
<path d="M436.2,641.2C436.9,639.9 440.1,638.8 442.5,639.2C444.9,639.5 448.8,641.2 450.8,643.3C452.9,645.4 454.8,649.2 455,651.7C455.2,654.1 453.6,657.6 451.9,657.9C450.1,658.3 446.8,655.5 444.6,653.8C442.3,652 439.7,649.6 438.3,647.5C436.9,645.4 435.6,642.6 436.2,641.2Z" fill="#124984"/>
<path d="M330,385C333.9,384.2 336.9,391.4 340,395C343.1,398.6 348.1,403.1 348.3,406.7C348.6,410.3 344.7,413.8 341.7,416.7C338.6,419.6 333.9,423 330,424C326.1,425 320.6,426.7 318.3,422.7C316.1,418.7 314.7,406.3 316.7,400C318.6,393.7 326.1,385.8 330,385Z" fill="#124984"/>
<path d="M329.2,393.8C331.6,393.8 337,395.8 339.6,397.9C342.2,400 344.8,403.1 344.8,406.2C344.8,409.4 341.8,413.9 339.6,416.7C337.3,419.4 333.7,422.2 331.2,422.9C328.8,423.6 326,425 325,420.8C324,416.7 324.3,402.4 325,397.9C325.7,393.4 326.7,393.8 329.2,393.8Z" fill="#124984"/>
<path d="M149,244.8C149.4,243.4 152.6,241.3 154.6,241.7C156.6,242 160.2,245.3 160.8,246.9C161.5,248.4 159.8,250.5 158.3,251C156.9,251.6 153.6,251 152.1,250C150.5,249 148.5,246.2 149,244.8Z" fill="#327cb7"/>
<path d="M214.2,257.3C214.5,255.8 217.1,254.2 220.8,254.6C224.5,254.9 233.6,257 236.5,259.4C239.3,261.7 238.4,266.1 237.9,268.8C237.4,271.4 235.5,275 233.3,275C231.2,275 227.4,270.7 225,268.8C222.6,266.8 220.6,265.5 218.8,263.5C216.9,261.6 213.8,258.8 214.2,257.3Z" fill="#327cb7"/>
<path d="M221.9,290.6C222.3,288.6 228,288.9 230.2,286.5C232.5,284 233.5,275.9 235.4,276C237.3,276.2 240.1,284.5 241.7,287.5C243.2,290.5 245.8,292.2 244.8,293.8C243.8,295.3 238.3,296.1 235.4,296.9C232.5,297.6 229.8,299.4 227.5,298.3C225.2,297.3 221.4,292.6 221.9,290.6Z" fill="#327cb7"/>
<path d="M240,308.3C241,306.1 246.6,301.9 250,300C253.4,298.1 256.9,299 260.4,296.9C263.9,294.8 268.1,288.2 270.8,287.5C273.6,286.8 274.8,292.4 277.1,292.7C279.3,293.1 281.9,288.9 284.4,289.6C286.8,290.3 288.5,294.8 291.7,296.9C294.8,299 300.7,299.5 303.1,302.1C305.6,304.7 304.7,309 306.2,312.5C307.8,316 310.1,319.1 312.5,322.9C314.9,326.7 318.1,331.6 320.8,335.4C323.6,339.2 328.8,343.2 329.2,345.8C329.5,348.4 325.7,350.7 322.9,351C320.1,351.4 316.3,349.7 312.5,347.9C308.7,346.2 303.5,342.7 300,340.6C296.5,338.5 293.6,338 291.7,335.4C289.8,332.8 290.3,326.2 288.5,325C286.8,323.8 283.9,327.1 281.2,328.1C278.6,329.2 275.7,331.4 272.9,331.2C270.1,331.1 266.8,328.6 264.6,327.1C262.3,325.5 261.8,323.3 259.4,321.9C256.9,320.5 252.6,320.1 250,318.8C247.4,317.4 245.4,315.3 243.8,313.5C242.1,311.8 239,310.6 240,308.3Z" fill="#327cb7"/>
<path d="M305.2,302.1C306.6,301 313.4,299.8 316.7,300C320,300.2 324.7,301.9 325,303.1C325.3,304.3 321.5,306.8 318.8,307.3C316,307.8 310.6,307.1 308.3,306.2C306.1,305.4 303.8,303.1 305.2,302.1Z" fill="#327cb7"/>
<path d="M354.2,311.5C355,309.7 360.4,305 363.5,305.2C366.7,305.4 372.7,310.4 372.9,312.5C373.1,314.6 367,317.2 364.6,317.7C362.2,318.2 360.1,316.7 358.3,315.6C356.6,314.6 353.3,313.2 354.2,311.5Z" fill="#327cb7"/>
<path d="M210,316.7C212.4,314.2 221.5,310 225,310C228.5,310 231.9,313.6 231.2,316.7C230.6,319.7 224.3,326.7 220.8,328.1C217.4,329.5 212.2,326.9 210.4,325C208.6,323.1 207.6,319.2 210,316.7Z" fill="#327cb7"/>
<path d="M174,355.2C175.3,352.3 180.2,353 183.3,353.1C186.5,353.3 189.6,358.2 192.7,356.2C195.8,354.3 197.4,344.4 202.1,341.7C206.8,339 216.8,338.6 220.8,340C224.8,341.4 225.9,345.9 226,350C226.2,354.1 223.4,360.8 221.9,364.6C220.3,368.4 219.6,371.2 216.7,372.9C213.7,374.7 208.3,374.1 204.2,375C200,375.9 196,376.7 191.7,378.1C187.3,379.5 180.9,384.5 178.1,383.3C175.3,382.1 175.7,375.5 175,370.8C174.3,366.1 172.6,358.2 174,355.2Z" fill="#327cb7"/>
<path d="M233.3,358.3C234.2,355 235.2,347.2 238.5,344.8C241.8,342.4 250.3,342.4 253.1,343.8C255.9,345.1 253.5,350.3 255.2,353.1C256.9,355.9 262.7,357.8 263.5,360.4C264.4,363 262,366 260.4,368.8C258.9,371.5 253.5,374.7 254.2,377.1C254.9,379.5 261.5,381.6 264.6,383.3C267.7,385.1 272.6,385.4 272.9,387.5C273.3,389.6 268.8,394.6 266.7,395.8C264.6,397 262.5,394.1 260.4,394.8C258.3,395.5 254.2,397.7 254.2,400C254.2,402.3 261.1,404.9 260.4,408.3C259.7,411.8 252.4,417 250,420.8C247.6,424.7 245.5,427.8 245.8,431.2C246.2,434.7 249.7,439.6 252.1,441.7C254.5,443.8 260.8,442.9 260.4,443.8C260.1,444.6 253.1,447.6 250,446.9C246.9,446.2 243.8,442.5 241.7,439.6C239.6,436.6 238.4,433 237.5,429.2C236.6,425.3 237.3,420.1 236.5,416.7C235.6,413.2 232.5,412.2 232.3,408.3C232.1,404.5 233.5,395.8 235.4,393.8C237.3,391.7 244.1,397.9 243.8,395.8C243.4,393.8 236.8,384.4 233.3,381.2C229.9,378.1 224,379.2 222.9,377.1C221.9,375 225.3,370.8 227.1,368.8C228.8,366.7 232.3,366.3 233.3,364.6C234.4,362.8 232.5,361.6 233.3,358.3Z" fill="#327cb7"/>
<path d="M146.9,379.2C147.8,375.8 150.5,369.5 153.1,369.2C155.7,368.8 159.2,374.4 162.5,377.1C165.8,379.8 170.8,382.8 172.9,385.4C175.1,388 175.9,390.6 175.4,392.7C174.9,394.8 172.5,396.7 169.8,397.9C167.1,399.1 162.3,399.5 159.4,400C156.4,400.5 154.1,402.8 152.1,401C150.1,399.3 148.4,393.2 147.5,389.6C146.6,385.9 145.9,382.6 146.9,379.2Z" fill="#327cb7"/>
<path d="M132.3,394.8C133.9,394.3 142.5,396 142.7,396.9C142.9,397.7 135.1,400.3 133.3,400C131.6,399.7 130.7,395.3 132.3,394.8Z" fill="#327cb7"/>
<path d="M277.1,400C277.3,397.2 281.4,393.6 283.3,391.7C285.2,389.8 287.5,391.1 288.5,388.5C289.6,385.9 288.9,377.3 289.6,376C290.3,374.8 292.2,379.2 292.7,381.2C293.2,383.3 291.5,386.1 292.7,388.5C293.9,391 297.7,393.9 300,395.8C302.3,397.7 303.5,399.8 306.2,400C309,400.2 312.8,396.9 316.7,396.9C320.5,396.9 325.9,398.6 329.2,400C332.5,401.4 336.8,402.8 336.5,405.2C336.1,407.6 330,412.7 327.1,414.6C324.1,416.5 322.2,416.7 318.8,416.7C315.3,416.7 310.1,414.4 306.2,414.6C302.4,414.8 299,417.7 295.8,417.7C292.7,417.7 289.8,416.1 287.5,414.6C285.2,413 284,410.8 282.3,408.3C280.6,405.9 276.9,402.8 277.1,400Z" fill="#327cb7"/>
<path d="M219.8,417.7C221,414.9 228,409.8 230.2,410C232.5,410.2 234.5,415.9 233.3,418.8C232.1,421.6 225.2,427.3 222.9,427.1C220.7,426.9 218.6,420.6 219.8,417.7Z" fill="#327cb7"/>
<path d="M330,505C330.8,503.6 335.6,501.7 338.3,501.7C341.1,501.7 345.8,503.6 346.7,505C347.5,506.4 345.6,509.2 343.3,510C341.1,510.8 335.6,510.8 333.3,510C331.1,509.2 329.2,506.4 330,505Z" fill="#327cb7"/>
<path d="M213.3,510C214.2,508.6 218.9,506.4 221.7,506.7C224.4,506.9 229.7,510.1 230,511.7C230.3,513.2 225.6,515.4 223.3,516C221.1,516.6 218.3,516 216.7,515C215,514 212.5,511.4 213.3,510Z" fill="#327cb7"/>
<path d="M509.4,216.7C503.1,217.7 517.9,220.5 518.8,222.9C519.6,225.3 515.6,228.1 514.6,231.2C513.5,234.4 512.5,237.8 512.5,241.7C512.5,245.5 514.6,250 514.6,254.2C514.6,258.3 512.7,262.5 512.5,266.7C512.3,270.8 513.7,275 513.5,279.2C513.4,283.3 512.3,287.2 511.5,291.7C510.6,296.2 508.2,302.1 508.3,306.2C508.5,310.4 511.1,313.9 512.5,316.7C513.9,319.4 516.3,320.1 516.7,322.9C517,325.7 513.9,332.3 514.6,333.3C515.3,334.4 518.4,328.8 520.8,329.2C523.3,329.5 526,334.4 529.2,335.4C532.3,336.5 536.5,336.5 539.6,335.4C542.7,334.4 545.1,330.9 547.9,329.2C550.7,327.4 553.1,325.3 556.2,325C559.4,324.7 563.5,325.7 566.7,327.1C569.8,328.5 572.6,330.6 575,333.3C577.4,336.1 579.9,340.6 581.2,343.8C582.6,346.9 582.1,349.7 583.3,352.1C584.5,354.5 586.5,357.6 588.5,358.3C590.6,359 593.9,357.6 595.8,356.2C597.7,354.9 599.5,352.1 600,350C600.5,347.9 600,346.2 599,343.8C597.9,341.3 595.7,338.2 593.8,335.4C591.8,332.6 589.2,329.9 587.5,327.1C585.8,324.3 584.5,321.2 583.3,318.8C582.1,316.3 580.2,315.3 580.2,312.5C580.2,309.7 582.5,305.9 583.3,302.1C584.2,298.3 584.7,293.4 585.4,289.6C586.1,285.8 587,283 587.5,279.2C588,275.3 589.2,270.5 588.5,266.7C587.8,262.8 585.6,259.7 583.3,256.2C581.1,252.8 577.6,249.3 575,245.8C572.4,242.4 569.8,238.5 567.7,235.4C565.6,232.3 564.4,230.2 562.5,227.1C560.6,224 565.1,218.4 556.2,216.7C547.4,214.9 515.6,215.6 509.4,216.7Z" fill="#327cb7"/>
<path d="M458.3,216.7C459,215.3 466.5,215.6 469.8,216.7C473.1,217.7 477.6,221.2 478.1,222.9C478.6,224.7 475,226.7 472.9,227.1C470.8,227.4 468.1,226.7 465.6,225C463.2,223.3 457.6,218.1 458.3,216.7Z" fill="#327cb7"/>
<path d="M575,216.7C584.5,214.9 630.9,215.3 640.6,216.7C650.3,218.1 636.3,223.4 633.3,225C630.4,226.6 625.3,225 622.9,226C620.5,227.1 619.8,228.6 618.8,231.2C617.7,233.9 616.8,238.5 616.7,241.7C616.5,244.8 618.4,247.9 617.7,250C617,252.1 614.4,254.5 612.5,254.2C610.6,253.8 608.3,250 606.2,247.9C604.2,245.8 602.4,243.8 600,241.7C597.6,239.6 594.4,237.8 591.7,235.4C588.9,233 586.1,230.2 583.3,227.1C580.6,224 565.5,218.4 575,216.7Z" fill="#327cb7"/>
<path d="M501,372.9C501.4,371.5 503.7,370.5 505.2,370.8C506.7,371.2 509.4,373.4 510,375C510.6,376.6 509.9,379.5 508.8,380.2C507.6,380.9 504.4,380.4 503.1,379.2C501.8,378 500.7,374.3 501,372.9Z" fill="#327cb7"/>
<path d="M720.8,329.2C721.5,327.3 723.3,326.4 725,326C726.7,325.7 730.2,324.1 731.2,327.1C732.3,330 732.3,341.1 731.2,343.8C730.2,346.4 726.7,343.8 725,342.7C723.3,341.7 721.5,339.8 720.8,337.5C720.1,335.2 720.1,331.1 720.8,329.2Z" fill="#327cb7"/>
<path d="M500.8,651.7C500.8,649.4 503.3,645.2 505,643.3C506.7,641.4 509.3,640.2 511.2,640.2C513.2,640.2 515.4,641.4 516.5,643.3C517.5,645.2 518,649.6 517.5,651.7C517,653.8 515.4,655 513.3,655.8C511.3,656.7 507.1,657.6 505,656.9C502.9,656.2 500.8,653.9 500.8,651.7Z" fill="#327cb7"/>
<path d="M484.2,689.2C484.2,686.7 486.6,681.9 488.3,678.8C490.1,675.6 492.5,672.5 494.6,670.4C496.7,668.3 498.4,666.6 500.8,666.2C503.3,665.9 506.4,667.3 509.2,668.3C511.9,669.4 514.7,671.8 517.5,672.5C520.3,673.2 523.8,671.8 525.8,672.5C527.9,673.2 530.3,675.3 530,676.7C529.7,678.1 525.8,679.4 523.8,680.8C521.7,682.2 519.2,682.9 517.5,685C515.8,687.1 513.3,690.6 513.3,693.3C513.3,696.1 515.8,698.9 517.5,701.7C519.2,704.4 523.1,707.6 523.8,710C524.4,712.4 523.1,715.6 521.7,716.2C520.3,716.9 517.5,714.2 515.4,714.2C513.3,714.2 511.2,716.9 509.2,716.2C507.1,715.6 504.3,712.1 502.9,710C501.5,707.9 500.5,705.8 500.8,703.8C501.2,701.7 505,699.2 505,697.5C505,695.8 502.7,693.7 500.8,693.3C498.9,693 495.6,695.4 493.5,695.4C491.5,695.4 489.9,694.4 488.3,693.3C486.8,692.3 484.2,691.6 484.2,689.2Z" fill="#327cb7"/>
<path d="M523.8,680.8C524.1,677.4 525,676 525.8,672.5C526.7,669 528.1,663.1 529,660C529.8,656.9 529.5,655.1 531,653.8C532.6,652.4 536.9,650.6 538.3,651.7C539.7,652.7 539,656.9 539.4,660C539.7,663.1 539.5,667.3 540.4,670.4C541.3,673.5 542.5,676.3 544.6,678.8C546.7,681.2 550.5,682.6 552.9,685C555.3,687.4 557.4,690.6 559.2,693.3C560.9,696.1 563.7,699.6 563.3,701.7C563,703.8 558.8,704.4 557.1,705.8C555.3,707.2 552.9,708.3 552.9,710C552.9,711.7 555.3,714.5 557.1,716.2C558.8,718 561.6,718.3 563.3,720.4C565.1,722.5 567.2,725.6 567.5,728.8C567.8,731.9 570.3,737.4 565.4,739.2C560.6,740.9 543.5,741.3 538.3,739.2C533.1,737.1 535.6,730.8 534.2,726.7C532.8,722.5 531.4,718 530,714.2C528.6,710.3 526.9,707.2 525.8,703.8C524.8,700.3 524.1,697.2 523.8,693.3C523.4,689.5 523.4,684.3 523.8,680.8Z" fill="#327cb7"/>
<path d="M427.9,616.2C427.9,615 430.9,613.1 432.1,613.1C433.3,613.1 435.2,615 435.2,616.2C435.2,617.5 433.3,620.4 432.1,620.4C430.9,620.4 427.9,617.5 427.9,616.2Z" fill="#327cb7"/>
<path d="M904.3,213.3C894.5,215.6 907.9,223.4 911,226.7C914.1,229.9 919.6,230.3 922.7,232.7C925.7,235 926.8,238.8 929.3,240.7C931.8,242.6 934.9,244 937.7,244C940.4,244 943.2,242.4 946,240.7C948.8,238.9 951.6,235.4 954.3,233.3C957.1,231.3 960.3,230.4 962.7,228.3C965.1,226.2 967.4,223.2 968.7,220.7C969.9,218.2 980.7,214.6 970,213.3C959.3,212.1 914.2,211.1 904.3,213.3Z" fill="#6bacd1"/>
<path d="M1088.7,211.7C1088.7,211.7 1087.3,220.2 1087.7,223.3C1088.1,226.5 1089.1,229 1091,230.7C1092.9,232.3 1096.3,232.8 1099.3,233.3C1102.4,233.9 1106.6,233.9 1109.3,234C1112.1,234.1 1113.2,234.3 1116,234C1118.8,233.7 1122.4,233.3 1126,232.3C1129.6,231.3 1133.8,229.7 1137.7,228C1141.6,226.3 1146,224.1 1149.3,222.3C1152.7,220.6 1155.4,219.1 1157.7,217.3C1159.9,215.6 1162.7,211.7 1162.7,211.7L1088.7,211.7Z" fill="#6bacd1"/>
<path d="M686.5,712.9C687.1,711.7 689.1,710.5 690.7,711.9C692.3,713.3 694.2,718.3 695.9,721.2C697.7,724.2 699.7,727 701.1,729.6C702.5,732.2 704.1,735.1 704.2,736.9C704.4,738.6 703.4,740.3 702.2,740C701,739.7 698.7,736.9 697,734.8C695.2,732.7 693.3,730.1 691.8,727.5C690.2,724.9 688.5,721.6 687.6,719.2C686.7,716.7 686,714.1 686.5,712.9Z" fill="#6bacd1"/>
<path d="M770.9,864C771,862.5 773.7,859.6 775.1,859.8C776.5,860 779.3,863.5 779.2,865C779.2,866.5 776.1,868.9 774.7,868.8C773.3,868.6 770.8,865.5 770.9,864Z" fill="#6bacd1"/>
<path d="M823,346.7C823.6,343.3 824.4,341.4 826.3,340C828.3,338.6 832.4,337.5 834.7,338.3C836.9,339.2 839.1,341.9 839.7,345C840.2,348.1 838.8,353.1 838,356.7C837.2,360.3 835.8,363.3 834.7,366.7C833.6,370 832.7,376.1 831.3,376.7C829.9,377.2 827.7,372.8 826.3,370C824.9,367.2 823.6,363.9 823,360C822.4,356.1 822.4,350 823,346.7Z" fill="#6bacd1"/>
<path d="M703,583.3C703.6,580.3 706.1,575.8 708,573.3C709.9,570.8 712.7,568.3 714.7,568.3C716.6,568.3 719.1,570.8 719.7,573.3C720.2,575.8 719.4,580.6 718,583.3C716.6,586.1 713.6,588.6 711.3,590C709.1,591.4 706.1,592.8 704.7,591.7C703.3,590.6 702.4,586.4 703,583.3Z" fill="#6bacd1"/>
<path d="M691.3,563.3C692.9,561.7 698.6,561.4 701.3,561.7C704.1,561.9 707.4,563.6 708,565C708.6,566.4 706.3,568.6 704.7,570C703,571.4 699.7,571.9 698,573.3C696.3,574.7 695.7,578.6 694.7,578.3C693.7,578.1 692.6,574.2 692,571.7C691.4,569.2 689.8,565 691.3,563.3Z" fill="#6bacd1"/>
<path d="M824.7,615C825.2,612.8 833,611.7 838,611.7C843,611.7 849.9,613.1 854.7,615C859.4,616.9 865.2,620.8 866.3,623.3C867.4,625.8 864.4,629.4 861.3,630C858.3,630.6 852.4,627.5 848,626.7C843.6,625.8 838.6,626.9 834.7,625C830.8,623.1 824.1,617.2 824.7,615Z" fill="#6bacd1"/>
<path d="M258.3,301C259.7,299.8 271.2,297.2 275,296.9C278.8,296.5 279.3,298.8 281.2,299C283.2,299.1 284.7,296.4 286.5,297.9C288.2,299.5 291.5,305.9 291.7,308.3C291.8,310.8 289.2,311.1 287.5,312.5C285.8,313.9 282.8,315.5 281.2,316.7C279.7,317.9 279.2,320.8 278.1,319.8C277.1,318.8 276.9,313 275,310.4C273.1,307.8 269.4,305.7 266.7,304.2C263.9,302.6 256.9,302.3 258.3,301Z" fill="#6bacd1"/>
<path d="M280.8,401C281.5,399 286.6,395.8 288.5,395.8C290.5,395.8 292.1,398.4 292.7,401C293.3,403.6 292.8,409.4 292.1,411.5C291.4,413.5 289.8,414.1 288.5,413.5C287.3,413 285.7,410.4 284.4,408.3C283.1,406.3 280.1,403.1 280.8,401Z" fill="#6bacd1"/>
<path d="M148.3,558.3C149.4,555.3 153.1,551.7 156.7,550C160.3,548.3 165.6,548.1 170,548.3C174.4,548.6 178.9,550 183.3,551.7C187.8,553.3 192.8,555.8 196.7,558.3C200.6,560.8 203.9,563.6 206.7,566.7C209.4,569.7 212.8,573.3 213.3,576.7C213.9,580 212.2,584.4 210,586.7C207.8,588.9 203.9,590.6 200,590C196.1,589.4 190.6,583.6 186.7,583.3C182.8,583.1 180,588.3 176.7,588.3C173.3,588.3 170,585.3 166.7,583.3C163.3,581.4 159.4,579.2 156.7,576.7C153.9,574.2 151.4,571.4 150,568.3C148.6,565.3 147.2,561.4 148.3,558.3Z" fill="#6bacd1"/>
<path d="M273.3,563.3C273.9,561.7 279.4,558.9 283.3,558.3C287.2,557.8 293.9,558.9 296.7,560C299.4,561.1 301.1,563.6 300,565C298.9,566.4 293.3,567.8 290,568.3C286.7,568.9 282.8,569.2 280,568.3C277.2,567.5 272.8,565 273.3,563.3Z" fill="#6bacd1"/>
<path d="M156.7,630C158.3,627.8 162.8,623.9 166.7,623.3C170.6,622.8 177.2,624.4 180,626.7C182.8,628.9 187.2,635 183.3,636.7C179.4,638.3 161.1,637.8 156.7,636.7C152.2,635.6 155,632.2 156.7,630Z" fill="#6bacd1"/>
<path d="M521.9,240.6C523.1,238.9 527.6,242 530.2,241.7C532.8,241.3 535.2,239.8 537.5,238.5C539.8,237.3 541.7,235.4 543.8,234.4C545.8,233.3 547.9,231.6 550,232.3C552.1,233 554.9,235.9 556.2,238.5C557.6,241.1 558.9,245.3 558.3,247.9C557.8,250.5 554.9,252.4 553.1,254.2C551.4,255.9 549.1,256.2 547.9,258.3C546.7,260.4 547.2,264.9 545.8,266.7C544.4,268.4 542.2,268.8 539.6,268.8C537,268.8 532.1,268.4 530.2,266.7C528.3,264.9 529.3,260.8 528.1,258.3C526.9,255.9 524,255 522.9,252.1C521.9,249.1 520.7,242.4 521.9,240.6Z" fill="#6bacd1"/>
<path d="M516.7,297.9C517.5,294.8 520,288.4 521.9,285.4C523.8,282.5 526.2,280.6 528.1,280.2C530,279.9 531.8,282.3 533.3,283.3C534.9,284.4 535.4,285.9 537.5,286.5C539.6,287 543.1,285.8 545.8,286.5C548.6,287.2 551.4,290.1 554.2,290.6C556.9,291.1 560.2,289.4 562.5,289.6C564.8,289.8 567.7,290.3 567.7,291.7C567.7,293.1 563.2,296.2 562.5,297.9C561.8,299.7 562.5,300.5 563.5,302.1C564.6,303.6 568.2,305.4 568.8,307.3C569.3,309.2 568.4,311.6 566.7,313.5C564.9,315.5 561.1,317.2 558.3,318.8C555.6,320.3 552.4,321.5 550,322.9C547.6,324.3 546.2,325.9 543.8,327.1C541.3,328.3 537.8,330 535.4,330.2C533,330.4 531.2,329.7 529.2,328.1C527.1,326.6 524.5,323.4 522.9,320.8C521.4,318.2 520.8,315.3 519.8,312.5C518.8,309.7 517.6,306.6 517.1,304.2C516.6,301.7 515.9,301 516.7,297.9Z" fill="#6bacd1"/>
<path d="M535.4,216.7C536.8,215.6 542.7,215.3 544.8,216.7C546.9,218.1 548.4,223.4 547.9,225C547.4,226.6 543.6,226.4 541.7,226C539.8,225.7 537.5,224.5 536.5,222.9C535.4,221.4 534,217.7 535.4,216.7Z" fill="#6bacd1"/>
<path d="M590.6,216.7C591.7,215.3 597.6,214.9 600,216.7C602.4,218.4 603.6,223.6 605.2,227.1C606.8,230.6 609.5,235.6 609.4,237.5C609.2,239.4 606.1,239.6 604.2,238.5C602.3,237.5 599.7,233.5 597.9,231.2C596.2,229 595,227.4 593.8,225C592.5,222.6 589.6,218.1 590.6,216.7Z" fill="#6bacd1"/>
<path d="M523.8,703.8C523.6,701.7 525.8,699.9 526.9,697.5C527.9,695.1 528.8,691.3 530,689.2C531.2,687.1 532.4,685 534.2,685C535.9,685 538,687.4 540.4,689.2C542.8,690.9 546.3,693 548.8,695.4C551.2,697.8 554.7,701.7 555,703.8C555.3,705.8 552.2,706.5 550.8,707.9C549.4,709.3 546.7,710.3 546.7,712.1C546.7,713.8 549.1,716.2 550.8,718.3C552.6,720.4 555.3,722.2 557.1,724.6C558.8,727 561.2,730.5 561.2,732.9C561.2,735.3 560.6,738.1 557.1,739.2C553.6,740.2 543.9,741.3 540.4,739.2C536.9,737.1 537.6,730.1 536.2,726.7C534.9,723.2 533.5,721.1 532.1,718.3C530.7,715.6 529.3,712.4 527.9,710C526.5,707.6 523.9,705.8 523.8,703.8Z" fill="#6bacd1"/>
<path d="M634.2,612.1C635,610.7 642.8,609.8 643.5,611C644.2,612.3 639.9,619.2 638.3,619.4C636.8,619.5 633.3,613.5 634.2,612.1Z" fill="#6bacd1"/>
<path d="M113.3,850C114.2,846.4 119.4,842.2 123.3,840C127.2,837.8 132.2,836.1 136.7,836.7C141.1,837.2 147.2,840 150,843.3C152.8,846.7 154.4,852.8 153.3,856.7C152.2,860.6 147.2,865 143.3,866.7C139.4,868.3 134.2,867.5 130,866.7C125.8,865.8 121.1,864.4 118.3,861.7C115.6,858.9 112.5,853.6 113.3,850Z" fill="#6bacd1"/>
<path d="M156.7,833.3C159.4,831.1 167.2,830 173.3,830C179.4,830 187.2,831.7 193.3,833.3C199.4,835 205,837.2 210,840C215,842.8 220.6,845.6 223.3,850C226.1,854.4 227.8,861.7 226.7,866.7C225.6,871.7 221.1,877.2 216.7,880C212.2,882.8 204.4,883.9 200,883.3C195.6,882.8 193.3,876.7 190,876.7C186.7,876.7 183.9,882.8 180,883.3C176.1,883.9 170,882.8 166.7,880C163.3,877.2 160.6,871.1 160,866.7C159.4,862.2 163.9,857.2 163.3,853.3C162.8,849.4 157.8,846.7 156.7,843.3C155.6,840 153.9,835.6 156.7,833.3Z" fill="#6bacd1"/>
<path d="M121.7,946.7C123.3,942.8 128.6,938.9 133.3,936.7C138.1,934.4 144.4,933.3 150,933.3C155.6,933.3 161.9,934.4 166.7,936.7C171.4,938.9 176.9,942.2 178.3,946.7C179.7,951.1 177.5,958.9 175,963.3C172.5,967.8 168.1,971.1 163.3,973.3C158.6,975.6 151.7,977.2 146.7,976.7C141.7,976.1 137.2,972.8 133.3,970C129.4,967.2 125.3,963.9 123.3,960C121.4,956.1 120,950.6 121.7,946.7Z" fill="#6bacd1"/>
<path d="M183.3,940C184.4,935.6 188.9,931.9 193.3,930C197.8,928.1 205.3,927.2 210,928.3C214.7,929.4 219.4,933.1 221.7,936.7C223.9,940.3 224.7,945.6 223.3,950C221.9,954.4 217.2,960.6 213.3,963.3C209.4,966.1 204.4,967.8 200,966.7C195.6,965.6 189.4,961.1 186.7,956.7C183.9,952.2 182.2,944.4 183.3,940Z" fill="#6bacd1"/>
<path d="M108.3,973.3C109.2,971.1 114.7,968.9 116.7,970C118.6,971.1 120.8,977.8 120,980C119.2,982.2 113.6,984.4 111.7,983.3C109.7,982.2 107.5,975.6 108.3,973.3Z" fill="#6bacd1"/>
<path d="M171.7,813.3C173.3,808.9 179.2,802.8 183.3,800C187.5,797.2 192.8,795.6 196.7,796.7C200.6,797.8 204.4,802.8 206.7,806.7C208.9,810.6 211.1,816.1 210,820C208.9,823.9 204.4,827.8 200,830C195.6,832.2 187.8,833.9 183.3,833.3C178.9,832.8 175.3,830 173.3,826.7C171.4,823.3 170,817.8 171.7,813.3Z" fill="#6bacd1"/>
<path d="M230,900C231.9,896.1 238.9,893.9 243.3,893.3C247.8,892.8 253.3,893.9 256.7,896.7C260,899.4 263.3,905.6 263.3,910C263.3,914.4 259.4,919.4 256.7,923.3C253.9,927.2 250,932.2 246.7,933.3C243.3,934.4 239.2,932.8 236.7,930C234.2,927.2 232.8,921.7 231.7,916.7C230.6,911.7 228.1,903.9 230,900Z" fill="#6bacd1"/>
<path d="M170.8,810.8C171.5,808.6 175.7,807 179.2,805.6C182.6,804.2 188.5,804.8 191.7,802.5C194.8,800.2 195.8,794.5 197.9,792.1C200,789.7 201,789.7 204.2,787.9C207.3,786.2 214.6,785.5 216.7,781.7C218.8,777.8 217.2,769.9 216.7,765C216.1,760.1 213.5,756.7 213.5,752.5C213.5,748.3 214.1,740 216.7,740C219.3,740 226.4,748.3 229.2,752.5C231.9,756.7 233.3,760.8 233.3,765C233.3,769.2 230.9,773.7 229.2,777.5C227.4,781.3 226.4,785.1 222.9,787.9C219.4,790.7 211.8,791.7 208.3,794.2C204.9,796.6 203.5,799.4 202.1,802.5C200.7,805.6 200,809.4 200,812.9C200,816.4 199.3,820.9 202.1,823.3C204.9,825.8 212.8,825.4 216.7,827.5C220.5,829.6 224.7,832.4 225,835.8C225.3,839.3 219.8,844.2 218.8,848.3C217.7,852.5 217.7,856.7 218.8,860.8C219.8,865 222.6,870.9 225,873.3C227.4,875.8 229.9,875.4 233.3,875.4C236.8,875.4 243.1,871.9 245.8,873.3C248.6,874.7 246.9,881 250,883.8C253.1,886.5 260.8,887.9 264.6,890C268.4,892.1 270.5,896.9 272.9,896.2C275.3,895.6 276.7,886.9 279.2,885.8C281.6,884.8 284.7,890 287.5,890C290.3,890 293.8,885.1 295.8,885.8C297.9,886.5 298.3,892.1 300,894.2C301.7,896.3 304.9,895.6 306.2,898.3C307.6,901.1 308.3,906.7 308.3,910.8C308.3,915 307.6,919.5 306.2,923.3C304.9,927.2 300.3,931 300,933.8C299.7,936.5 302.1,938.3 304.2,940C306.2,941.7 309.7,943.3 312.5,944.2C315.3,945 318.1,945.9 320.8,945.2C323.6,944.5 326.4,941.9 329.2,940C331.9,938.1 334.7,936.5 337.5,933.8C340.3,931 343.1,926.1 345.8,923.3C348.6,920.6 352.4,915.3 354.2,917.1C355.9,918.8 356.9,929.2 356.2,933.8C355.6,938.3 352.4,941.4 350,944.2C347.6,946.9 345.1,949 341.7,950.4C338.2,951.8 333.3,952.8 329.2,952.5C325,952.2 320.5,949.4 316.7,948.3C312.8,947.3 309,947.6 306.2,946.2C303.5,944.9 302.1,943.1 300,940C297.9,936.9 295.8,931 293.8,927.5C291.7,924 289.6,921.6 287.5,919.2C285.4,916.7 283,912.2 281.2,912.9C279.5,913.6 278.8,920.9 277.1,923.3C275.3,925.8 272.9,924.7 270.8,927.5C268.8,930.3 266.7,936.5 264.6,940C262.5,943.5 260.8,947.6 258.3,948.3C255.9,949 252.4,946.3 250,944.2C247.6,942.1 246.2,936.5 243.8,935.8C241.3,935.1 237.8,940.7 235.4,940C233,939.3 231.3,934.4 229.2,931.7C227.1,928.9 225,926.1 222.9,923.3C220.8,920.6 218.8,918.1 216.7,915C214.6,911.9 212.5,908.1 210.4,904.6C208.3,901.1 204.5,897.3 204.2,894.2C203.8,891 209,887.6 208.3,885.8C207.6,884.1 202.8,883.1 200,883.8C197.2,884.4 194.4,888.3 191.7,890C188.9,891.7 186.1,893.8 183.3,894.2C180.6,894.5 177.8,893.5 175,892.1C172.2,890.7 169.8,887.2 166.7,885.8C163.5,884.4 159.4,885.1 156.2,883.8C153.1,882.4 150.7,877.8 147.9,877.5C145.1,877.2 142.4,881.7 139.6,881.7C136.8,881.7 134.4,878.9 131.2,877.5C128.1,876.1 124,874.7 120.8,873.3C117.7,871.9 113.9,874.7 112.5,869.2C111.1,863.6 111.1,845.6 112.5,840C113.9,834.4 118.1,836.9 120.8,835.8C123.6,834.8 125.7,833.4 129.2,833.8C132.6,834.1 137.8,837.9 141.7,837.9C145.5,837.9 148.6,834.8 152.1,833.8C155.6,832.7 159.4,832.4 162.5,831.7C165.6,831 168.1,830.3 170.8,829.6C173.6,828.9 178.5,829.2 179.2,827.5C179.9,825.8 176.4,821.9 175,819.2C173.6,816.4 170.1,813.1 170.8,810.8Z" fill="#6bacd1"/>
<path d="M110.4,940C112,934.1 115.6,934.1 118.8,933.8C121.9,933.4 125.3,936.9 129.2,937.9C133,939 137.5,939 141.7,940C145.8,941 150.7,944.2 154.2,944.2C157.6,944.2 159.7,939.7 162.5,940C165.3,940.3 168.8,943.8 170.8,946.2C172.9,948.7 175,951.5 175,954.6C175,957.7 172.2,961.5 170.8,965C169.4,968.5 168.8,972.3 166.7,975.4C164.6,978.5 160.4,980.6 158.3,983.8C156.2,986.9 155.2,991 154.2,994.2C153.1,997.3 159.7,1001.1 152.1,1002.5C144.4,1003.9 115.5,1008.1 108.3,1002.5C101.2,996.9 109,979.6 109.4,969.2C109.7,958.8 108.9,945.9 110.4,940Z" fill="#6bacd1"/>
<path d="M182.3,937.9C183.3,936.2 187.8,935 189.6,935.8C191.3,936.7 192.9,941 192.7,943.1C192.5,945.2 190.1,947.8 188.5,948.3C187,948.9 184.4,948 183.3,946.2C182.3,944.5 181.3,939.7 182.3,937.9Z" fill="#6bacd1"/>
<path d="M208.3,946.2C209.4,943.1 214.2,939.1 216.7,939C219.1,938.8 222.6,942.6 222.9,945.2C223.3,947.8 220.8,952.5 218.8,954.6C216.7,956.7 212.2,959.1 210.4,957.7C208.7,956.3 207.3,949.4 208.3,946.2Z" fill="#6bacd1"/>
<path d="M162.5,781.7C162.5,779.9 167.4,778.5 170.8,778.5C174.3,778.5 179.5,780.3 183.3,781.7C187.2,783.1 192.4,785.1 193.8,786.9C195.1,788.6 193.8,791.4 191.7,792.1C189.6,792.8 184.7,791.6 181.2,791C177.8,790.5 174,790.5 170.8,789C167.7,787.4 162.5,783.4 162.5,781.7Z" fill="#6bacd1"/>
<path d="M1216,290C1216,290 1209.1,291.7 1206,293.3C1202.9,295 1200.4,297.2 1197.7,300C1194.9,302.8 1191.6,306.9 1189.3,310C1187.1,313.1 1186.6,315.8 1184.3,318.3C1182.1,320.8 1179.1,323.6 1176,325C1172.9,326.4 1169.6,326.8 1166,326.7C1162.4,326.5 1157.9,324.8 1154.3,324C1150.7,323.2 1147.4,321.5 1144.3,321.7C1141.3,321.8 1138.2,323.1 1136,325C1133.8,326.9 1132.7,330 1131,333.3C1129.3,336.7 1127.1,341.1 1126,345C1124.9,348.9 1125.7,353.1 1124.3,356.7C1122.9,360.3 1120.2,363.9 1117.7,366.7C1115.2,369.4 1111.8,371.1 1109.3,373.3C1106.8,375.6 1102.9,378.3 1102.7,380C1102.4,381.7 1105.4,382.2 1107.7,383.3C1109.9,384.4 1113.9,384.4 1116,386.7C1118.1,388.9 1119,392.2 1120,396.7C1121,401.1 1121.6,407.8 1122,413.3C1122.4,418.9 1123,424.4 1122.7,430C1122.3,435.6 1121.4,441.9 1120,446.7C1118.6,451.4 1116.7,454.7 1114.3,458.3C1112,461.9 1109.1,465 1106,468.3C1102.9,471.7 1098.8,475.3 1096,478.3C1093.2,481.4 1090.9,484.2 1089.3,486.7C1087.8,489.2 1086.4,491.1 1086.7,493.3C1086.9,495.6 1090.6,497.5 1091,500C1091.4,502.5 1089.1,505 1089.3,508.3C1089.6,511.7 1091,516.4 1092.7,520C1094.3,523.6 1097.2,526.7 1099.3,530C1101.4,533.3 1103.9,536.1 1105.3,540C1106.7,543.9 1107.4,548.9 1107.7,553.3C1107.9,557.8 1107.5,562.5 1106.7,566.7C1105.8,570.8 1104.4,574.7 1102.7,578.3C1100.9,581.9 1098.5,585.3 1096,588.3C1093.5,591.4 1090.6,594.2 1087.7,596.7C1084.8,599.2 1080.6,600.3 1078.7,603.3C1076.7,606.4 1077.6,614.2 1076,615C1074.4,615.8 1071.8,609.7 1069.3,608.3C1066.8,606.9 1063.8,607.2 1061,606.7C1058.2,606.1 1055.7,605.8 1052.7,605C1049.6,604.2 1045.2,603.3 1042.7,601.7C1040.2,600 1039.6,597.5 1037.7,595C1035.7,592.5 1033.2,589.7 1031,586.7C1028.8,583.6 1027.1,579.7 1024.3,576.7C1021.6,573.6 1017.9,570.6 1014.3,568.3C1010.7,566.1 1006.3,565 1002.7,563.3C999.1,561.7 995,560.6 992.7,558.3C990.3,556.1 988.9,553.1 988.7,550C988.4,546.9 990.2,543.6 991,540C991.8,536.4 993.6,531.7 993.3,528.3C993.1,525 991,521.7 989.3,520C987.7,518.3 985.6,517.8 983.3,518.3C981.1,518.9 978.6,521.7 976,523.3C973.4,525 970.4,526.8 967.7,528.3C964.9,529.9 962.4,531.6 959.3,532.7C956.3,533.8 952.1,533.8 949.3,535C946.6,536.2 945.2,538.6 942.7,540C940.2,541.4 937.4,542.5 934.3,543.3C931.3,544.2 927.4,543.9 924.3,545C921.3,546.1 918.5,547.8 916,550C913.5,552.2 911.3,555 909.3,558.3C907.4,561.7 905.7,565.8 904.3,570C902.9,574.2 901.8,579.4 901,583.3C900.2,587.2 900.2,591.1 899.3,593.3C898.5,595.6 895.7,595.6 896,596.7C896.3,597.8 902.7,597.2 901.3,600C900,602.8 891.3,608.3 888,613.3C884.7,618.3 882.2,625.6 881.3,630C880.5,634.4 880.8,637.8 883,640C885.2,642.2 891.6,641.7 894.7,643.3C897.7,645 901.3,647.2 901.3,650C901.3,652.8 897.4,656.7 894.7,660C891.9,663.3 885.2,666.7 884.7,670C884.1,673.3 888.3,677.5 891.3,680C894.3,682.5 900.4,681.7 902.7,685C904.9,688.3 904.7,700 904.7,700L904.7,793.3C904.7,793.3 903.6,797.8 906.3,800C909.1,802.2 917.2,805.8 921.3,806.7C925.5,807.5 928.3,803.9 931.3,805C934.4,806.1 937.7,810.6 939.7,813.3C941.6,816.1 943.8,818.9 943,821.7C942.2,824.4 936.9,826.9 934.7,830C932.4,833.1 930.8,836.7 929.7,840C928.6,843.3 927.7,846.9 928,850C928.3,853.1 931.3,858.3 931.3,858.3L931.3,1066.7L1348,1066.7L1348,266.7L1216,290Z" fill="#b1d5e7"/>
<path d="M200,800C200.6,796.1 203.3,795.6 206.7,793.3C210,791.1 215.6,788.1 220,786.7C224.4,785.3 229.4,785 233.3,785C237.2,785 241.1,788.1 243.3,786.7C245.6,785.3 247.2,780 246.7,776.7C246.1,773.3 242.8,769.4 240,766.7C237.2,763.9 231.1,761.9 230,760C228.9,758.1 231.1,755.3 233.3,755C235.6,754.7 239.4,756.9 243.3,758.3C247.2,759.7 252.8,761.9 256.7,763.3C260.6,764.7 263.9,766.7 266.7,766.7C269.4,766.7 270.8,763.3 273.3,763.3C275.8,763.3 279.4,765 281.7,766.7C283.9,768.3 284.7,773.3 286.7,773.3C288.6,773.3 291.1,768.9 293.3,766.7C295.6,764.4 296.7,760.6 300,760C303.3,759.4 308.9,763.9 313.3,763.3C317.8,762.8 322.8,757.2 326.7,756.7C330.6,756.1 333.9,758.3 336.7,760C339.4,761.7 340.6,767.2 343.3,766.7C346.1,766.1 350,760 353.3,756.7C356.7,753.3 360,749.4 363.3,746.7C366.7,743.9 370.3,740.6 373.3,740C376.4,739.4 379.4,741.1 381.7,743.3C383.9,745.6 385.3,750 386.7,753.3C388.1,756.7 390.6,760 390,763.3C389.4,766.7 385,769.4 383.3,773.3C381.7,777.2 378.3,783.9 380,786.7C381.7,789.4 388.9,790 393.3,790C397.8,790 402.2,788.3 406.7,786.7C411.1,785 415.6,780 420,780C424.4,780 430.8,783.3 433.3,786.7C435.8,790 435,795.6 435,800C435,804.4 435.8,810.6 433.3,813.3C430.8,816.1 423.3,817.2 420,816.7C416.7,816.1 416.1,810.6 413.3,810C410.6,809.4 406.1,810.6 403.3,813.3C400.6,816.1 400,823.3 396.7,826.7C393.3,830 387.2,832.8 383.3,833.3C379.4,833.9 376.1,831.1 373.3,830C370.6,828.9 368.3,825 366.7,826.7C365,828.3 364.4,835.6 363.3,840C362.2,844.4 359.4,849.4 360,853.3C360.6,857.2 363.9,861.1 366.7,863.3C369.4,865.6 374.4,863.9 376.7,866.7C378.9,869.4 380,875.6 380,880C380,884.4 378.9,889.4 376.7,893.3C374.4,897.2 370,900.6 366.7,903.3C363.3,906.1 360,907.2 356.7,910C353.3,912.8 349.4,916.1 346.7,920C343.9,923.9 342.8,929.4 340,933.3C337.2,937.2 333.9,942.2 330,943.3C326.1,944.4 320.3,942.2 316.7,940C313.1,937.8 310,933.9 308.3,930C306.7,926.1 306.4,921.1 306.7,916.7C306.9,912.2 311.1,907.2 310,903.3C308.9,899.4 303.3,895.6 300,893.3C296.7,891.1 293.3,891.1 290,890C286.7,888.9 283.9,886.9 280,886.7C276.1,886.4 270.6,888.9 266.7,888.3C262.8,887.8 260,884.7 256.7,883.3C253.3,881.9 250.6,881.7 246.7,880C242.8,878.3 237.2,875.6 233.3,873.3C229.4,871.1 225.8,869.4 223.3,866.7C220.8,863.9 218.9,860 218.3,856.7C217.8,853.3 218.6,849.4 220,846.7C221.4,843.9 226.1,842.8 226.7,840C227.2,837.2 225.6,832.8 223.3,830C221.1,827.2 216.7,825.6 213.3,823.3C210,821.1 205.6,820.6 203.3,816.7C201.1,812.8 199.4,803.9 200,800Z" fill="#b1d5e7"/>
<path d="M168.3,650C168.9,645.6 171.9,643.1 175,640C178.1,636.9 183.1,632.2 186.7,631.7C190.3,631.1 193.6,634.2 196.7,636.7C199.7,639.2 202.2,642.8 205,646.7C207.8,650.6 211.7,655.8 213.3,660C215,664.2 216.1,668.1 215,671.7C213.9,675.3 209.7,678.6 206.7,681.7C203.6,684.7 200,688.3 196.7,690C193.3,691.7 189.7,693.3 186.7,691.7C183.6,690 180.8,684.2 178.3,680C175.8,675.8 173.3,671.7 171.7,666.7C170,661.7 167.8,654.4 168.3,650Z" fill="#b1d5e7"/>
<path d="M240,663.3C240.8,660.6 243.3,656.9 246.7,656.7C250,656.4 255.6,660 260,661.7C264.4,663.3 268.9,665.3 273.3,666.7C277.8,668.1 283.1,667.8 286.7,670C290.3,672.2 293.3,676.1 295,680C296.7,683.9 297.2,688.9 296.7,693.3C296.1,697.8 293.6,702.8 291.7,706.7C289.7,710.6 286.9,713.6 285,716.7C283.1,719.7 281.9,725 280,725C278.1,725 275.6,719.7 273.3,716.7C271.1,713.6 269.4,710 266.7,706.7C263.9,703.3 259.7,700.6 256.7,696.7C253.6,692.8 250.8,687.2 248.3,683.3C245.8,679.4 243.1,676.7 241.7,673.3C240.3,670 239.2,666.1 240,663.3Z" fill="#b1d5e7"/>
<path d="M346.7,726.7C347.2,723.3 350.3,722.2 351.7,723.3C353.1,724.4 354.7,729.4 355,733.3C355.3,737.2 354.4,745 353.3,746.7C352.2,748.3 349.4,746.7 348.3,743.3C347.2,740 346.1,730 346.7,726.7Z" fill="#b1d5e7"/>
<path d="M437.3,756.7C438.6,751.9 441.3,748.3 443.3,748.3C445.3,748.3 447.9,752.5 449.3,756.7C450.7,760.8 451.6,767.2 451.7,773.3C451.8,779.4 450.8,787.2 450,793.3C449.2,799.4 448.3,806.7 446.7,810C445,813.3 441.7,815 440,813.3C438.3,811.7 437.3,806.1 436.7,800C436,793.9 435.9,783.9 436,776.7C436.1,769.4 436.1,761.4 437.3,756.7Z" fill="#b1d5e7"/>
<path d="M511.7,886.7C513.3,883.3 518.6,880 523.3,878.3C528.1,876.7 535,876.4 540,876.7C545,876.9 551.1,874.7 553.3,880C555.6,885.3 555.6,903.3 553.3,908.3C551.1,913.3 545,910.6 540,910C535,909.4 527.8,906.9 523.3,905C518.9,903.1 515.3,901.4 513.3,898.3C511.4,895.3 510,890 511.7,886.7Z" fill="#b1d5e7"/>
<path d="M405,890C406.7,886.1 411.9,883.9 416.7,883.3C421.4,882.8 428.3,887.5 433.3,886.7C438.3,885.8 442.2,879.2 446.7,878.3C451.1,877.5 455.6,881.9 460,881.7C464.4,881.4 470.3,875.3 473.3,876.7C476.4,878.1 477.8,885 478.3,890C478.9,895 478.1,901.7 476.7,906.7C475.3,911.7 472.2,916.1 470,920C467.8,923.9 466.7,929.2 463.3,930C460,930.8 454.4,924.4 450,925C445.6,925.6 441.7,931.7 436.7,933.3C431.7,935 424.2,937.2 420,935C415.8,932.8 413.9,924.7 411.7,920C409.4,915.3 407.8,911.7 406.7,906.7C405.6,901.7 403.3,893.9 405,890Z" fill="#b1d5e7"/>
<path d="M468.3,853.3C469.3,850 472.9,846.1 475,846.7C477.1,847.2 479.8,852.2 480.7,856.7C481.5,861.1 481.2,869.7 480,873.3C478.8,876.9 475.1,879.4 473.3,878.3C471.6,877.2 470.2,870.8 469.3,866.7C468.5,862.5 467.4,856.7 468.3,853.3Z" fill="#b1d5e7"/>
<path d="M480,920C481.7,916.6 489.3,914.2 491.7,916.7C494,919.2 495.7,931.6 494,935C492.3,938.4 484,939.8 481.7,937.3C479.3,934.8 478.3,923.4 480,920Z" fill="#b1d5e7"/>
<path d="M544.7,833.3C544.7,833.3 554.1,824.4 558,820C561.9,815.6 564.1,810 568,806.7C571.9,803.3 576.3,801.4 581.3,800C586.3,798.6 593.3,798.1 598,798.3C602.7,798.6 606.3,799.2 609.7,801.7C613,804.2 615.2,808.6 618,813.3C620.8,818.1 623.6,824.4 626.3,830C629.1,835.6 632.2,841.1 634.7,846.7C637.2,852.2 639.4,857.8 641.3,863.3C643.3,868.9 645.2,873.9 646.3,880C647.4,886.1 648.3,893.3 648,900C647.7,906.7 646.3,913.9 644.7,920C643,926.1 640.2,931.7 638,936.7C635.8,941.7 633.6,945.6 631.3,950C629.1,954.4 627.4,959.4 624.7,963.3C621.9,967.2 618.6,971.4 614.7,973.3C610.8,975.3 605.8,975 601.3,975C596.9,975 591.9,975 588,973.3C584.1,971.7 580.8,968.3 578,965C575.2,961.7 573.8,957.5 571.3,953.3C568.8,949.2 565.8,943.9 563,940C560.2,936.1 557.7,932.2 554.7,930C551.6,927.8 544.7,926.7 544.7,926.7L544.7,833.3Z" fill="#b1d5e7"/>
<path d="M653,800C653.3,796.1 654.7,790.6 656.3,786.7C658,782.8 660.2,779.2 663,776.7C665.8,774.2 669.4,772.5 673,771.7C676.6,770.8 681.3,770.6 684.7,771.7C688,772.8 690.5,775.3 693,778.3C695.5,781.4 698,785.8 699.7,790C701.3,794.2 702.2,798.9 703,803.3C703.8,807.8 704.7,812.2 704.7,816.7C704.7,821.1 703,825.6 703,830C703,834.4 704.8,838.9 704.7,843.3C704.5,847.8 703.1,852.2 702,856.7C700.9,861.1 699.8,865.8 698,870C696.2,874.2 693.3,878.9 691.3,881.7C689.4,884.4 688,887.5 686.3,886.7C684.7,885.8 682.4,880.6 681.3,876.7C680.2,872.8 680.2,867.8 679.7,863.3C679.1,858.9 679.1,853.9 678,850C676.9,846.1 675.2,843.3 673,840C670.8,836.7 666.9,833.6 664.7,830C662.4,826.4 661.3,821.7 659.7,818.3C658,815 655.8,813.1 654.7,810C653.6,806.9 652.7,803.9 653,800Z" fill="#b1d5e7"/>
<path d="M830.7,773.3C830.9,769.2 835.1,763.3 838,760C840.9,756.7 844.4,754.6 848,753.3C851.6,752.1 856.1,752.1 859.7,752.7C863.3,753.2 866.3,754.9 869.7,756.7C873,758.4 876.3,761.1 879.7,763.3C883,765.6 886.1,767.8 889.7,770C893.3,772.2 898.6,773.9 901.3,776.7C904.1,779.4 905.5,782.8 906.3,786.7C907.2,790.6 908.3,796.9 906.3,800C904.4,803.1 898.8,803.9 894.7,805C890.5,806.1 885.8,806.4 881.3,806.7C876.9,806.9 872.4,807.2 868,806.7C863.6,806.1 858.6,805.3 854.7,803.3C850.8,801.4 847.7,798.1 844.7,795C841.6,791.9 838.7,788.6 836.3,785C834,781.4 830.4,777.5 830.7,773.3Z" fill="#b1d5e7"/>
<path d="M773,983.3C773.3,978.3 779.1,974.2 781.3,970C783.6,965.8 784.1,961.9 786.3,958.3C788.6,954.7 791.1,951.4 794.7,948.3C798.3,945.3 803.6,941.7 808,940C812.4,938.3 816.9,939.2 821.3,938.3C825.8,937.5 830.2,935.8 834.7,935C839.1,934.2 843.6,933.3 848,933.3C852.4,933.3 857.7,933.9 861.3,935C864.9,936.1 867.2,937.8 869.7,940C872.2,942.2 874.7,945.3 876.3,948.3C878,951.4 878.3,955.6 879.7,958.3C881.1,961.1 882.2,963.1 884.7,965C887.2,966.9 894.1,968.1 894.7,970C895.2,971.9 890.8,974.4 888,976.7C885.2,978.9 880.5,980.8 878,983.3C875.5,985.8 874.7,988.3 873,991.7C871.3,995 869.9,999.7 868,1003.3C866.1,1006.9 863.6,1008.3 861.3,1013.3C859.1,1018.3 866.9,1030 854.7,1033.3C842.4,1036.7 800.5,1038.9 788,1033.3C775.5,1027.8 782.2,1008.3 779.7,1000C777.2,991.7 772.7,988.3 773,983.3Z" fill="#b1d5e7"/>
<path d="M829.7,915C830.9,912.8 834.9,912.5 838,911.7C841.1,910.8 844.9,910 848,910C851.1,910 855.2,910.6 856.3,911.7C857.4,912.8 856.6,915.3 854.7,916.7C852.7,918.1 847.4,918.1 844.7,920C841.9,921.9 839.7,926.1 838,928.3C836.3,930.6 835.9,933.9 834.7,933.3C833.4,932.8 831.5,928.1 830.7,925C829.8,921.9 828.4,917.2 829.7,915Z" fill="#b1d5e7"/>
<path d="M893,925C894.4,922.5 899.1,918.9 901.3,918.3C903.6,917.8 906.9,919.4 906.3,921.7C905.8,923.9 900.2,929.7 898,931.7C895.8,933.6 893.8,934.4 893,933.3C892.2,932.2 891.6,927.5 893,925Z" fill="#b1d5e7"/>
<path d="M527.1,313.5C527.1,311.5 528.6,308.9 530.2,307.3C531.8,305.7 534.4,304.5 536.5,304.2C538.5,303.8 541,304.3 542.7,305.2C544.4,306.1 546.4,307.6 546.9,309.4C547.4,311.1 546.7,313.9 545.8,315.6C545,317.4 543.4,318.8 541.7,319.8C539.9,320.8 537.3,321.9 535.4,321.9C533.5,321.9 531.6,321.2 530.2,319.8C528.8,318.4 527.1,315.6 527.1,313.5Z" fill="#b1d5e7"/>
<path d="M541.5,712.1C542.1,711.7 543.7,713.6 544.6,715.2C545.5,716.8 546.8,720.2 546.7,721.5C546.5,722.7 544.5,723.2 543.5,722.5C542.6,721.8 541.2,719 540.8,717.3C540.5,715.6 540.8,712.4 541.5,712.1Z" fill="#b1d5e7"/>
<path d="M176,869.2C176.4,867.3 178.5,866.4 180.2,866C181.9,865.7 185.1,865.9 186.5,867.1C187.8,868.3 188.9,871.4 188.5,873.3C188.2,875.2 186.1,877.8 184.4,878.5C182.6,879.2 179.5,879.1 178.1,877.5C176.7,875.9 175.7,871.1 176,869.2Z" fill="#b1d5e7"/>
<path d="M540.4,862.9C541.5,858.9 542.5,852.5 544.6,848.3C546.7,844.2 549.8,842.1 552.9,837.9C556,833.8 560.2,825.8 563.3,823.3C566.5,820.9 571.7,823.3 571.7,823.3L571.7,931.7C571.7,931.7 565.8,929.2 563.3,927.5C560.9,925.8 559.9,923.7 557.1,921.2C554.3,918.8 550.5,915.3 546.7,912.9C542.8,910.5 537.6,908.4 534.2,906.7C530.7,904.9 529,904.2 525.8,902.5C522.7,900.8 518,898.7 515.4,896.2C512.8,893.8 510.6,890.9 510.2,887.9C509.9,885 510.7,880.8 513.3,878.5C515.9,876.3 521.7,875.4 525.8,874.4C530,873.3 535.9,874.2 538.3,872.3C540.8,870.4 539.4,866.9 540.4,862.9Z" fill="#b1d5e7"/>
<path d="M964.3,678.3C963.6,673.3 965,666.1 966.7,661.7C968.3,657.2 971.1,653.9 974.3,651.7C977.6,649.4 982.4,648.3 986,648.3C989.6,648.3 993.2,649.4 996,651.7C998.8,653.9 1000.2,658.9 1002.7,661.7C1005.2,664.4 1009.3,665 1011,668.3C1012.7,671.7 1011.6,677.5 1012.7,681.7C1013.8,685.8 1017.7,690 1017.7,693.3C1017.7,696.7 1013.6,698.1 1012.7,701.7C1011.7,705.3 1011.7,710.8 1012,715C1012.3,719.2 1012.3,723.6 1014.3,726.7C1016.4,729.7 1020.4,731.8 1024.3,733.3C1028.2,734.9 1033.5,735.4 1037.7,736C1041.8,736.6 1046.6,734.9 1049.3,736.7C1052.1,738.4 1051.8,743.6 1054.3,746.7C1056.8,749.7 1061.3,751.9 1064.3,755C1067.4,758.1 1070.4,761.4 1072.7,765C1074.9,768.6 1075.7,772.5 1077.7,776.7C1079.6,780.8 1081.3,786.1 1084.3,790C1087.4,793.9 1091.8,796.1 1096,800C1100.2,803.9 1105.2,808.9 1109.3,813.3C1113.5,817.8 1118.8,823.3 1121,826.7C1123.2,830 1123.5,830.6 1122.7,833.3C1121.8,836.1 1117.7,839.4 1116,843.3C1114.3,847.2 1113.8,852.2 1112.7,856.7C1111.6,861.1 1110.7,865.6 1109.3,870C1107.9,874.4 1106,879.4 1104.3,883.3C1102.7,887.2 1100.8,890.3 1099.3,893.3C1097.8,896.4 1095.3,898.9 1095.3,901.7C1095.3,904.4 1099.8,907.5 1099.3,910C1098.9,912.5 1094.9,914.2 1092.7,916.7C1090.4,919.2 1087.7,921.7 1086,925C1084.3,928.3 1083.5,933.1 1082.7,936.7C1081.8,940.3 1082.7,943.6 1081,946.7C1079.3,949.7 1076,952.5 1072.7,955C1069.3,957.5 1064.9,959.7 1061,961.7C1057.1,963.6 1053.5,964.7 1049.3,966.7C1045.2,968.6 1040.4,971.1 1036,973.3C1031.6,975.6 1026.3,977.2 1022.7,980C1019.1,982.8 1016.6,986.7 1014.3,990C1012.1,993.3 1011.3,997.5 1009.3,1000C1007.4,1002.5 1004.9,1003.9 1002.7,1005C1000.4,1006.1 994.9,1005.3 996,1006.7C997.1,1008.1 1006.6,1008.9 1009.3,1013.3C1012.1,1017.8 1012.7,1033.3 1012.7,1033.3L896,1033.3L896,933.3L886,920L886,803.3C886,803.3 893.2,804.2 896,805C898.8,805.8 900.2,807.5 902.7,808.3C905.2,809.2 908.2,810.3 911,810C913.8,809.7 916.3,807.2 919.3,806.7C922.4,806.1 926.3,805.6 929.3,806.7C932.4,807.8 935.2,810.8 937.7,813.3C940.2,815.8 944.3,819.2 944.3,821.7C944.3,824.2 939.9,825.8 937.7,828.3C935.4,830.8 932.5,833.6 931,836.7C929.5,839.7 928.9,843.3 928.7,846.7C928.4,850 928.1,854.3 929.3,856.7C930.6,859 933.2,859.8 936,860.7C938.8,861.5 942.9,862.1 946,861.7C949.1,861.3 952.4,860.3 954.3,858.3C956.3,856.4 956.9,853.1 957.7,850C958.4,846.9 957.8,843.6 958.7,840C959.5,836.4 961.2,831.9 962.7,828.3C964.2,824.7 966.3,821.7 967.7,818.3C969.1,815 970.1,811.7 971,808.3C971.9,805 972.5,801.9 973.3,798.3C974.2,794.7 974.7,789.7 976,786.7C977.3,783.6 979.8,783.3 981,780C982.2,776.7 982.9,771.7 983.3,766.7C983.7,761.7 983.7,755.6 983.3,750C982.9,744.4 982.2,739.2 981,733.3C979.8,727.5 976.6,720.3 976,715C975.4,709.7 978.5,705.6 977.7,701.7C976.8,697.8 973.2,695.6 971,691.7C968.8,687.8 965.1,683.3 964.3,678.3Z" fill="#6bacd1"/>
<path d="M886,680C886,680 897.7,683.6 902.7,685C907.7,686.4 911.8,686.4 916,688.3C920.2,690.3 924.1,693.9 927.7,696.7C931.3,699.4 934.9,701.9 937.7,705C940.4,708.1 942.9,710.8 944.3,715C945.7,719.2 946,725.3 946,730C946,734.7 945.2,739.2 944.3,743.3C943.5,747.5 942.7,751.1 941,755C939.3,758.9 936.8,763.3 934.3,766.7C931.8,770 928.8,772.5 926,775C923.2,777.5 920.4,780.6 917.7,781.7C914.9,782.8 911.8,782.5 909.3,781.7C906.8,780.8 904.9,778.3 902.7,776.7C900.4,775 898.8,774.2 896,771.7C893.2,769.2 886,761.7 886,761.7L886,680Z" fill="#6bacd1"/>
<path d="M1153.3,650C1153.5,646.7 1153.8,641.4 1155.3,638.3C1156.9,635.3 1159.8,633.1 1162.7,631.7C1165.6,630.3 1169.3,629.7 1172.7,630C1176,630.3 1179.8,631.4 1182.7,633.3C1185.6,635.3 1188.2,638.3 1190,641.7C1191.8,645 1193.2,649.7 1193.3,653.3C1193.5,656.9 1192.5,660.6 1191,663.3C1189.5,666.1 1186.8,668.4 1184.3,670C1181.8,671.6 1179.1,672.6 1176,672.7C1172.9,672.8 1168.9,671.9 1166,670.7C1163.1,669.4 1160.6,667.1 1158.7,665C1156.7,662.9 1155.2,660.8 1154.3,658.3C1153.4,655.8 1153.2,653.3 1153.3,650Z" fill="#6bacd1"/>
<path d="M1161,291.7C1161.3,289.6 1162.8,286.6 1164.3,285C1165.8,283.4 1168.1,282.2 1170,282C1171.9,281.8 1174.3,282.7 1176,284C1177.7,285.3 1179.4,287.9 1180,290C1180.6,292.1 1180.3,294.8 1179.3,296.7C1178.4,298.5 1176.3,300.3 1174.3,301C1172.4,301.7 1169.6,301.6 1167.7,301C1165.7,300.4 1163.8,298.9 1162.7,297.3C1161.6,295.8 1160.7,293.7 1161,291.7Z" fill="#327cb7"/>
<path d="M1025.3,800C1025.8,795.6 1026.2,792.5 1027.7,790C1029.2,787.5 1031.6,786.1 1034.3,785C1037.1,783.9 1040.7,783.1 1044.3,783.3C1047.9,783.6 1052.7,785 1056,786.7C1059.3,788.3 1062.4,790 1064.3,793.3C1066.3,796.7 1066.3,802.5 1067.7,806.7C1069.1,810.8 1072.9,815 1072.7,818.3C1072.4,821.7 1068.2,824.2 1066,826.7C1063.8,829.2 1061.6,831.1 1059.3,833.3C1057.1,835.6 1055.7,838.2 1052.7,840C1049.6,841.8 1044.6,843.9 1041,844C1037.4,844.1 1033.5,842.4 1031,840.7C1028.5,838.9 1027.1,837.3 1026,833.3C1024.9,829.3 1024.8,822.2 1024.7,816.7C1024.6,811.1 1024.8,804.4 1025.3,800Z" fill="#327cb7"/>
<path d="M982,863.3C982.6,859.2 985.8,857.3 987.7,855C989.6,852.7 991.1,849.6 993.3,849.3C995.6,849.1 998.1,852.4 1001,853.3C1003.9,854.3 1007.9,853.3 1011,855C1014.1,856.7 1016.7,859.7 1019.3,863.3C1021.9,866.9 1026.4,872.8 1026.7,876.7C1026.9,880.6 1023.6,884.2 1021,886.7C1018.4,889.2 1014.2,889.7 1011,891.7C1007.8,893.6 1004.8,897.8 1002,898.3C999.2,898.9 996.7,895.8 994.3,895C991.9,894.2 989.3,895.8 987.7,893.3C986,890.8 985.3,885 984.3,880C983.4,875 981.4,867.5 982,863.3Z" fill="#327cb7"/>
<path d="M923.3,988.3C923.7,984.2 925.3,978.6 927.7,975C930.1,971.4 934.6,968.6 937.7,966.7C940.7,964.7 944.1,963.1 946,963.3C947.9,963.6 949.3,965.8 949.3,968.3C949.3,970.8 947.4,975.3 946,978.3C944.6,981.4 942.4,983.6 941,986.7C939.6,989.7 938.6,993.3 937.7,996.7C936.7,1000 936.7,1004.9 935.3,1006.7C933.9,1008.4 931,1008.4 929.3,1007.3C927.7,1006.2 926.3,1003.2 925.3,1000C924.3,996.8 922.9,992.5 923.3,988.3Z" fill="#327cb7"/>
<path d="M896.7,746.7C897.9,745 903.9,744.6 905.3,746C906.8,747.4 906.6,753.3 905.3,755C904.1,756.7 899.1,757.4 897.7,756C896.2,754.6 895.4,748.3 896.7,746.7Z" fill="#327cb7"/>
<path d="M385,780C385.8,775 387.8,773.3 390,770C392.2,766.7 396,762.2 398.3,760C400.7,757.8 403.4,755.6 404,756.7C404.6,757.8 402.9,763.3 401.7,766.7C400.4,770 398.1,773.3 396.7,776.7C395.3,780 394.2,782.8 393.3,786.7C392.5,790.6 391.7,795.6 391.7,800C391.7,804.4 393.6,809.4 393.3,813.3C393.1,817.2 391.2,822.8 390,823.3C388.8,823.9 386.8,820.6 386,816.7C385.2,812.8 385.2,806.1 385,800C384.8,793.9 384.2,785 385,780Z" fill="#327cb7"/>
<path d="M121.9,950.4C123.1,947.6 127.6,946.6 131.2,946.2C134.9,945.9 139.6,947.6 143.8,948.3C147.9,949 153.8,948.7 156.2,950.4C158.7,952.2 159,955.6 158.3,958.8C157.6,961.9 154.2,966 152.1,969.2C150,972.3 148.3,975.8 145.8,977.5C143.4,979.2 140.3,980.3 137.5,979.6C134.7,978.9 131.4,976.1 129.2,973.3C126.9,970.6 125.2,966.7 124,962.9C122.7,959.1 120.7,953.2 121.9,950.4Z" fill="#327cb7"/>
<path d="M153.1,842.1C153.6,840.3 157.5,839 159.4,840C161.3,841 164.1,846.1 164.6,848.3C165.1,850.6 163.9,853.2 162.5,853.5C161.1,853.9 157.8,852.3 156.2,850.4C154.7,848.5 152.6,843.8 153.1,842.1Z" fill="#327cb7"/>
<path d="M177.1,831.7C177.8,830.8 181.4,832 183.3,833.8C185.2,835.5 188.4,840.3 188.5,842.1C188.7,843.8 185.9,844.7 184.4,844.2C182.8,843.6 180.4,841 179.2,839C178,836.9 176.4,832.5 177.1,831.7Z" fill="#327cb7"/>
<path d="M202.1,877.5C202.8,875.8 207.1,874.4 208.3,875.4C209.5,876.5 210.1,882 209.4,883.8C208.7,885.5 205.4,886.9 204.2,885.8C203,884.8 201.4,879.2 202.1,877.5Z" fill="#327cb7"/>
<path d="M236.5,906.7C236.8,905.1 242.2,904.6 243.8,905.6C245.3,906.7 246.2,911.4 245.8,912.9C245.5,914.5 243.2,916 241.7,915C240.1,914 236.1,908.2 236.5,906.7Z" fill="#327cb7"/>
<path d="M465.4,739L546.7,739C546.7,739 550.1,744.2 548.8,746.2C547.4,748.3 542.2,750.1 538.3,751.5C534.5,752.8 530,754.4 525.8,754.6C521.7,754.8 517.2,753 513.3,752.5C509.5,752 506.4,751.5 502.9,751.5C499.4,751.5 496,752 492.5,752.5C489,753 484.9,753.2 482.1,754.6C479.3,756 477.6,761.2 475.8,760.8C474.1,760.5 473.4,756.1 471.7,752.5C469.9,748.9 465.4,739 465.4,739Z" fill="#327cb7"/>
<path d="M411.2,759.8C411.9,757.9 416.3,756.1 418.5,756.7C420.8,757.2 424.3,760.8 424.8,762.9C425.3,765 423.4,768.3 421.7,769.2C419.9,770 416.1,769.7 414.4,768.1C412.6,766.6 410.6,761.7 411.2,759.8Z" fill="#327cb7"/>
<path d="M461.2,775.4C462.1,774 467.2,772.3 469.6,772.3C472,772.3 475.3,774 475.8,775.4C476.4,776.8 474.6,779.8 472.7,780.6C470.8,781.5 466.3,781.5 464.4,780.6C462.5,779.8 460.4,776.8 461.2,775.4Z" fill="#327cb7"/>
<path d="M729.2,968.3C730.6,960.3 734.7,968.3 737.5,970.4C740.3,972.5 743.8,977 745.8,980.8C747.9,984.7 748.6,989.2 750,993.3C751.4,997.5 751.7,1001.7 754.2,1005.8C756.6,1010 768.8,1016.2 764.6,1018.3C760.4,1020.4 735.1,1026.7 729.2,1018.3C723.3,1010 727.8,976.3 729.2,968.3Z" fill="#327cb7"/>
<path d="M699,1018.3C694.8,1015.6 707.8,1007.7 712.5,1001.7C717.2,995.6 724.1,982.6 727.1,981.9C730,981.2 728.5,991.4 730.2,997.5C731.9,1003.6 742.7,1014.9 737.5,1018.3C732.3,1021.8 703.1,1021.1 699,1018.3Z" fill="#124984"/>
<path d="M1169.3,376.7C1170.2,372.8 1171.8,367.9 1174.3,365C1176.8,362.1 1180.7,360.3 1184.3,359.3C1187.9,358.4 1192.7,358.4 1196,359.3C1199.3,360.3 1202.2,362.7 1204.3,365C1206.4,367.3 1206.7,370.8 1208.7,373.3C1210.6,375.8 1214.8,370 1216,380C1217.2,390 1216.8,425 1216,433.3C1215.2,441.7 1212.7,430.8 1211,430C1209.3,429.2 1207.4,430.6 1206,428.3C1204.6,426.1 1204.1,419.2 1202.7,416.7C1201.3,414.2 1199.9,413.6 1197.7,413.3C1195.4,413.1 1192.1,414.4 1189.3,415C1186.6,415.6 1183.5,417.2 1181,416.7C1178.5,416.1 1176.2,414.4 1174.3,411.7C1172.5,408.9 1170.8,403.9 1170,400C1169.2,396.1 1169.4,392.2 1169.3,388.3C1169.2,384.4 1168.5,380.6 1169.3,376.7Z" fill="#e4eef4"/>
<path d="M1139.3,555C1139.6,551.1 1141.8,544.4 1144.3,540C1146.8,535.6 1150.7,531.9 1154.3,528.3C1157.9,524.7 1161.8,521.7 1166,518.3C1170.2,515 1174.6,511.1 1179.3,508.3C1184.1,505.6 1188.8,503.3 1194.3,501.7C1199.9,500 1206.8,499.2 1212.7,498.3C1218.5,497.5 1229.3,496.7 1229.3,496.7L1229.3,623.3C1229.3,623.3 1221,621.1 1217.7,620C1214.3,618.9 1212.7,617.8 1209.3,616.7C1206,615.6 1201.6,615.6 1197.7,613.3C1193.8,611.1 1189.3,606.7 1186,603.3C1182.7,600 1180.7,596.1 1177.7,593.3C1174.6,590.6 1170.7,588.9 1167.7,586.7C1164.6,584.4 1162.4,582.8 1159.3,580C1156.3,577.2 1152.1,572.8 1149.3,570C1146.6,567.2 1144.3,565.8 1142.7,563.3C1141,560.8 1139.1,558.9 1139.3,555Z" fill="#e4eef4"/>
<path d="M926,576.7C926.3,573.1 927.4,567.1 929.3,563.3C931.3,559.6 934.3,556.5 937.7,554C941,551.5 945.4,549.3 949.3,548.3C953.2,547.4 957.4,547.5 961,548.3C964.6,549.2 968.2,550.8 971,553.3C973.8,555.8 976,559.7 977.7,563.3C979.3,566.9 980.3,571.1 981,575C981.7,578.9 982.3,582.8 982,586.7C981.7,590.6 980.6,595 979.3,598.3C978.1,601.7 976.8,604.4 974.3,606.7C971.8,608.9 967.9,610.7 964.3,611.7C960.7,612.7 956.3,612.9 952.7,612.7C949.1,612.4 945.6,611.6 942.7,610C939.8,608.4 937.3,606.1 935.3,603.3C933.4,600.6 932.3,596.4 931,593.3C929.7,590.3 928.5,587.8 927.7,585C926.8,582.2 925.7,580.3 926,576.7Z" fill="#e4eef4"/>
<path d="M1112.7,641.7C1113.1,639.3 1115.4,638.5 1116.7,639.3C1117.9,640.2 1119.6,644.1 1120,646.7C1120.4,649.3 1119.9,652.8 1119.3,655C1118.8,657.2 1116.4,658.1 1116.7,660C1116.9,661.9 1120,664.2 1121,666.7C1122,669.2 1123.2,672.8 1122.7,675C1122.1,677.2 1119.9,679.3 1117.7,680C1115.4,680.7 1111.8,680.2 1109.3,679.3C1106.8,678.5 1102.9,677.1 1102.7,675C1102.4,672.9 1106,669.2 1107.7,666.7C1109.3,664.2 1111.6,662.2 1112.7,660C1113.8,657.8 1114.3,656.4 1114.3,653.3C1114.3,650.3 1112.3,644 1112.7,641.7Z" fill="#e4eef4"/>
<path d="M1132,696.7C1132.3,693.4 1132.6,689.4 1134.3,687.3C1136.1,685.2 1139.3,684 1142.7,684C1146,684 1150.7,686.1 1154.3,687.3C1157.9,688.6 1161.9,689 1164.3,691.7C1166.7,694.3 1168.1,699.2 1168.7,703.3C1169.2,707.5 1168.4,712.5 1167.7,716.7C1166.9,720.8 1166,725.4 1164.3,728.3C1162.7,731.2 1160.4,733.1 1157.7,734C1154.9,734.9 1150.4,734.9 1147.7,734C1144.9,733.1 1142.9,730.9 1141,728.3C1139.1,725.7 1137.4,721.9 1136,718.3C1134.6,714.7 1133.3,710.3 1132.7,706.7C1132,703.1 1131.7,699.9 1132,696.7Z" fill="#e4eef4"/>
<path d="M1166,756.7C1167,755 1172.1,754.4 1176,755C1179.9,755.6 1185.2,758.3 1189.3,760C1193.5,761.7 1197.4,763.4 1201,765C1204.6,766.6 1207.7,768.4 1211,769.3C1214.3,770.3 1219.3,769.7 1221,770.7C1222.7,771.6 1222.7,773.4 1221,775C1219.3,776.6 1213.2,777.5 1211,780C1208.8,782.5 1209.1,786.9 1207.7,790C1206.3,793.1 1204.9,796.2 1202.7,798.3C1200.4,800.4 1197.4,802.1 1194.3,802.7C1191.3,803.2 1187.7,802.4 1184.3,801.7C1181,800.9 1177.7,799.8 1174.3,798.3C1171,796.8 1165.4,794.9 1164.3,792.7C1163.2,790.4 1166.6,787.9 1167.7,785C1168.8,782.1 1170.6,778.3 1171,775C1171.4,771.7 1170.8,768.1 1170,765C1169.2,761.9 1165,758.3 1166,756.7Z" fill="#e4eef4"/>
<path d="M174,660C173.7,657.2 176.2,653.9 178.3,651.7C180.4,649.4 183.9,646.9 186.7,646.7C189.4,646.4 192.8,648.1 195,650C197.2,651.9 198.9,655.6 200,658.3C201.1,661.1 202.5,664.4 201.7,666.7C200.8,668.9 197.4,670.7 195,671.7C192.6,672.7 189.8,673.2 187.3,672.7C184.8,672.1 182.2,670.4 180,668.3C177.8,666.2 174.3,662.8 174,660Z" fill="#e4eef4"/>
<path d="M256.7,680C257.7,678.1 260.6,675.3 263.3,675C266.1,674.7 270.3,676.4 273.3,678.3C276.4,680.3 280,683.6 281.7,686.7C283.3,689.7 283.6,693.6 283.3,696.7C283.1,699.7 281.7,703.3 280,705C278.3,706.7 275.6,707.2 273.3,706.7C271.1,706.1 268.6,703.9 266.7,701.7C264.7,699.4 263.2,695.8 261.7,693.3C260.1,690.8 258.2,688.9 257.3,686.7C256.5,684.4 255.7,681.9 256.7,680Z" fill="#e4eef4"/>
<path d="M280,853.3C281.9,848.9 288.3,846.7 291.7,846.7C295,846.7 297.2,853.3 300,853.3C302.8,853.3 305.6,849.4 308.3,846.7C311.1,843.9 313.6,839.4 316.7,836.7C319.7,833.9 323.9,832.2 326.7,830C329.4,827.8 330.6,825 333.3,823.3C336.1,821.7 340.6,821.7 343.3,820C346.1,818.3 348.1,815.6 350,813.3C351.9,811.1 353.8,805.6 355,806.7C356.2,807.8 357.1,815.6 357.3,820C357.6,824.4 357.3,829.4 356.7,833.3C356,837.2 353.1,839.4 353.3,843.3C353.6,847.2 358.1,852.2 358.3,856.7C358.6,861.1 356.7,866.7 355,870C353.3,873.3 350.8,876.7 348.3,876.7C345.8,876.7 342.5,872.2 340,870C337.5,867.8 335.6,865 333.3,863.3C331.1,861.7 328.9,859.4 326.7,860C324.4,860.6 322.2,864.4 320,866.7C317.8,868.9 316.1,872.5 313.3,873.3C310.6,874.2 306.4,871.1 303.3,871.7C300.3,872.2 297.8,875.3 295,876.7C292.2,878.1 289.2,880.6 286.7,880C284.2,879.4 281.1,877.8 280,873.3C278.9,868.9 278.1,857.8 280,853.3Z" fill="#e4eef4"/>
<path d="M238.3,823.3C239.6,821.1 243.6,816.9 246.7,816.7C249.7,816.4 253.9,819.4 256.7,821.7C259.4,823.9 261.1,826.9 263.3,830C265.6,833.1 269.7,837.5 270,840C270.3,842.5 267.5,844.4 265,845C262.5,845.6 258.3,844.7 255,843.3C251.7,841.9 247.6,838.9 245,836.7C242.4,834.4 240.4,832.2 239.3,830C238.2,827.8 237.1,825.6 238.3,823.3Z" fill="#e4eef4"/>
<path d="M313.3,910C313.8,906.1 314.4,902.2 316.7,900C318.9,897.8 323.3,896.9 326.7,896.7C330,896.4 334.2,896.7 336.7,898.3C339.2,900 341.1,903.1 341.7,906.7C342.2,910.3 341.1,916.1 340,920C338.9,923.9 336.7,928.9 335,930C333.3,931.1 331.4,928.3 330,926.7C328.6,925 328.1,919.7 326.7,920C325.3,920.3 323.3,926.1 321.7,928.3C320,930.6 317.9,934.2 316.7,933.3C315.4,932.5 314.6,927.2 314,923.3C313.4,919.4 312.9,913.9 313.3,910Z" fill="#e4eef4"/>
<path d="M573,856.7C573.4,854.2 574.4,851.6 576.3,850C578.3,848.4 581.6,847.2 584.7,847.3C587.7,847.4 592.3,848.8 594.7,850.7C597,852.5 598.2,855.7 598.7,858.3C599.1,861 598.8,864.4 597.3,866.7C595.8,868.9 592.6,871.1 589.7,871.7C586.7,872.2 582.3,871.1 579.7,870C577.1,868.9 575.1,867.2 574,865C572.9,862.8 572.6,859.2 573,856.7Z" fill="#e4eef4"/>
<path d="M553,890C553.4,886.4 556.1,883.4 558,881.7C559.9,879.9 562.7,878.5 564.7,879.3C566.6,880.2 568.3,883.5 569.7,886.7C571.1,889.8 572.2,894.7 573,898.3C573.8,901.9 575.2,905.6 574.7,908.3C574.1,911.1 571.9,914.4 569.7,915C567.4,915.6 563.7,913.6 561.3,911.7C558.9,909.7 556.7,906.9 555.3,903.3C553.9,899.7 552.6,893.6 553,890Z" fill="#e4eef4"/>
<path d="M664,796.7C663.6,793.1 664.8,788.1 666.3,785C667.8,781.9 670.5,779.7 673,778.3C675.5,776.9 678.6,776.4 681.3,776.7C684.1,776.9 687.7,777.8 689.7,780C691.6,782.2 692.2,786.1 693,790C693.8,793.9 693.9,798.9 694.7,803.3C695.4,807.8 697.1,812.8 697.3,816.7C697.6,820.6 697.6,824.7 696.3,826.7C695.1,828.6 692.2,828.9 689.7,828.3C687.2,827.8 683.8,825.6 681.3,823.3C678.8,821.1 676.8,817.8 674.7,815C672.6,812.2 670.4,809.7 668.7,806.7C666.9,803.6 664.4,800.3 664,796.7Z" fill="#e4eef4"/>
<path d="M801.3,983.3C802.6,981.1 808.6,980.3 811.3,978.3C814.1,976.4 815.5,973.3 818,971.7C820.5,970 823.6,968.3 826.3,968.3C829.1,968.3 833,969.7 834.7,971.7C836.3,973.6 834.9,977.5 836.3,980C837.7,982.5 840.8,984.4 843,986.7C845.2,988.9 847.7,991.1 849.7,993.3C851.6,995.6 853,997.5 854.7,1000C856.3,1002.5 859.7,1005.8 859.7,1008.3C859.7,1010.8 857.7,1013.6 854.7,1015C851.6,1016.4 845.2,1016.7 841.3,1016.7C837.4,1016.7 834.7,1016.1 831.3,1015C828,1013.9 824.7,1012.2 821.3,1010C818,1007.8 814.2,1004.7 811.3,1001.7C808.4,998.6 805.7,994.7 804,991.7C802.3,988.6 800.1,985.6 801.3,983.3Z" fill="#e4eef4"/>
<path d="M946,576.7C945.9,573.6 947.3,570.4 948.7,568.3C950.1,566.2 952.3,564.7 954.3,564C956.4,563.3 959.2,563 961,564C962.8,565 964.5,567.6 965.3,570C966.2,572.4 966.4,575.6 966,578.3C965.6,581.1 964.3,584.8 962.7,586.7C961,588.5 958.2,589.3 956,589.3C953.8,589.3 951,588.8 949.3,586.7C947.7,584.6 946.1,579.7 946,576.7Z" fill="#fae9df"/>
<path d="M318.3,908.3C319.7,907.4 327.5,906.8 330,907.3C332.5,907.9 333.9,910.6 333.3,911.7C332.8,912.8 328.6,913.8 326.7,914C324.7,914.2 323.1,913.6 321.7,912.7C320.3,911.7 316.9,909.2 318.3,908.3Z" fill="#fae9df"/>
<path d="M669.7,795C669.6,792.6 670.2,789 671.3,787.3C672.4,785.7 674.7,784.8 676.3,785C678,785.2 680.2,785.8 681.3,788.3C682.4,790.8 683,796.4 683,800C683,803.6 682.4,808.9 681.3,810C680.2,811.1 677.9,808.1 676.3,806.7C674.8,805.3 673.1,803.6 672,801.7C670.9,799.7 669.8,797.4 669.7,795Z" fill="#fae9df"/>
<path d="M816.3,990C816.3,987.9 817.7,985.8 819.7,985C821.6,984.2 826.2,983.9 828,985C829.8,986.1 830.9,989.4 830.7,991.7C830.4,993.9 828.2,997.4 826.3,998.3C824.5,999.3 821.3,998.7 819.7,997.3C818,995.9 816.3,992.1 816.3,990Z" fill="#fae9df"/>
</g>
<g fill="none" stroke="#808080" stroke-width="1.5" stroke-linejoin="round">
<path d="M399.3,215L398.3,293.3L389.3,294L388.3,305L379.3,306L377.3,346.7L376.7,369.3"/>
<path d="M129.3,360.7L376.7,369.3L439,370.7L438.3,396.7L395,397.3L394.3,430.7L376.7,431.7L376,448.3L296.7,447.3L296,474L200,470.7L199.3,478.3L146.7,476.7L146,475L126,474"/>
<path d="M438.3,396.7L439,432.3"/>
<path d="M425,432.3L501.7,433.3L536.7,433.3L548,435"/>
<path d="M425,432.3L422.7,542.7"/>
<path d="M468.3,216.7L473.3,230L483.3,236.7L495,240L501.7,253.3L498.3,266.7L493.3,280L495,296.7L498.3,310L500,326.7L501.7,346.7L501,433.3"/>
<path d="M500,328.3L510,340L520,343.3L525,335L533.3,341.7L548,346.7"/>
<path d="M122.7,532.7L373.3,542.7L422.7,542.7L530,546.7"/>
<path d="M373.3,542.7L368.3,550L376.7,558.3L380,570L390,583.3L396.7,592.7L430,594L440,605L446.7,613.3L460,621.7L470,622.7L480,610L491.7,608.3L501.7,618.3L503.3,608.3L510,590L518.3,580L520,561.7L530,546.7L536.7,543.3L548,546.7"/>
<path d="M361,570L361,636.7"/>
<path d="M378.3,563.3L361,570.7L346.7,583.3L333.3,595L320,605L306.7,598.3L290,601.7L276.7,608.3L263.3,623.3L255,636.7"/>
<path d="M505,607.3L548,607.3"/>
<path d="M530,435L533.3,450L540,463.3L548,470"/>
<path d="M571.3,218.3L576.3,233.3L588,250L598,266.7L606.3,283.3L613,300L616.3,315L623,316.7L628,323.3L629.7,333.3L636.3,343.3L643,353.3L648,363.3L652,366.7"/>
<path d="M548,346.7L558,350L571.3,351.7L584.7,346.7L598,344L608,346.7L613,333.3L616.3,323.3"/>
<path d="M652,366.7L744.7,366"/>
<path d="M763,219.3L762.3,348.3L744.7,349.3L745.3,413.3"/>
<path d="M652,366.7L649.7,380L655.3,393.3L653,406.7L648,418.3L648,431.7L691.3,433.3"/>
<path d="M648,431.7L646.3,448.3L658,455L668,463.3L681.3,468.3L691.3,469.3"/>
<path d="M646.3,448.3L631.3,460L616.3,463.3L611.3,480L619.7,486.7L631.3,495L626.3,506.7L616.3,516.7L608,528.3L598,540L591.3,546.7L579.7,543.3L564.7,543.3L559.7,530L558,516.7L563,506.7L568,493.3L564.7,483.3L554.7,473.3L548,470"/>
<path d="M611.3,480L598,481.7L588,473.3L581.3,460L571.3,446.7L561.3,436.7L548,435"/>
<path d="M691.3,433.3L691.3,595L703,594.3L903,595L903,636.7"/>
<path d="M691.3,436.7L728,436.7L730.7,433.3L739.7,428.3L741.3,423.3L749.7,421.7L751.3,413.3L759.7,411.7L758,418.3L745.3,420"/>
<path d="M745.3,413.3L884.7,418.3L896,418.3"/>
<path d="M885.3,418.3L884.7,312.7L896,312.7"/>
<path d="M745.3,418.3L745.3,506.7"/>
<path d="M746.3,461.7L761.3,463.3L771.3,458.3L781.3,456.7L784.7,448.3L796.3,446.7L801.3,437.3L814.7,439.3L813,455L794.7,456.7L793,465L781.3,466.7L774.7,471.7L776.3,483.3L778,490L769.7,495L763,488.3L751.3,486.7L748,495L738,495"/>
<path d="M774.7,471.7L896,471"/>
<path d="M745.3,506L896,505.3"/>
<path d="M806.3,507.3L807,595"/>
<path d="M703,594.3L702,636.7"/>
<path d="M749,595.7L749.7,636.7"/>
<path d="M745.3,506.7L739.7,520L733,533.3L728,546.7L724.7,560L716.3,570L708,583.3L703,594.3"/>
<path d="M623,506.7L691.3,506"/>
<path d="M573,545L571.3,566.7L568,586.7L566.3,603.3L548,607.3"/>
<path d="M972,216.7L972.7,311.7"/>
<path d="M896,312.7L990.3,311.7L991.7,417.3L896,419"/>
<path d="M1112.7,214L1114.3,271.7L1112.7,272.7L1113.3,326"/>
<path d="M1114.3,262.7L1205.3,261"/>
<path d="M990.3,328.3L1096,326.7L1206,324"/>
<path d="M1096,326.7L1095,343.3L1096,345L1095.3,413.3L1096.7,501.7"/>
<path d="M954.3,418.3L955.3,505"/>
<path d="M896,471.7L955.3,470.7"/>
<path d="M896,506L955.3,505L1042.7,504L1096.7,501.7L1212.7,498.3"/>
<path d="M955.3,505L956,636.7"/>
<path d="M1042,504L1043.3,610.7L1217.7,604"/>
<path d="M896,595L902.7,595L902.7,636.7"/>
<path d="M300,600L285,606.7L270,616.7L256.7,630L240,636.7L221.7,644L220,678.3L219.3,711.7"/>
<path d="M219.3,679L358.3,681.7"/>
<path d="M100,707.3L219.3,711.7"/>
<path d="M361,600L358.3,681.7L356.7,756.7"/>
<path d="M256.7,748.3L335,750L336.7,756.7L356.7,756.7"/>
<path d="M256.7,748.3L261.7,755L263.3,761.7L273.3,763.3L281.7,766.7L285,773.3L284,790L291.7,793.3L293.3,810L300,815L308.3,818.3L316.7,828.3L318.3,836.7"/>
<path d="M335,750L338.3,763.3L343.3,776.7L345,791.7L350,800L353.3,806.7L348.3,813.3L343.3,820L340,823.3"/>
<path d="M113.3,777.7L285,784"/>
<path d="M111.7,832.3L143.3,833.3L145,830.7L233.3,833.3L240,848.3L253.3,846.7L260,844L273.3,845L280,850L286.7,855L293.3,860L290,866.7L281.7,873.3L278.3,883.3L279.3,887.3"/>
<path d="M293.3,860L300,853.3L308.3,843.3L318.3,836.7L330,833.3L340,823.3L348.3,830L350,843.3L353.3,853.3L358.3,863.3L356.7,890"/>
<path d="M106.7,908.3L125,884L279.3,887.3L355,890"/>
<path d="M279.3,887.3L270,896.7L265,910L263.3,923.3L253.3,933.3L243.3,943.3L233.3,956.7L225,970L221.7,986.7L215,1000L208.3,1011.7"/>
<path d="M355,890L353.3,1016.7"/>
<path d="M345.7,788.3L435,789.3L435,820"/>
<path d="M436.7,733.3L548,736"/>
<path d="M436.7,733.3L435,790"/>
<path d="M411.7,830L420,828.3L433.3,830L440,825L450,826.7L460,835L473.3,840L482.7,846.7L482.7,853.3L500,854L500,871.7L548,871.7"/>
<path d="M411.7,830L410.7,883.3L411.7,940.7L478.3,941.7L482.7,853.3"/>
<path d="M355,933.3L411.7,935"/>
<path d="M478.3,941.7L548,941.7"/>
<path d="M483.3,941.7L483.3,973.3L495,983.3L498.3,996.7L513.3,1020"/>
<path d="M702,600L702,681.7"/>
<path d="M603,681.7L714.7,681.7L716.3,691.7L763,691.7"/>
<path d="M749,600L749,646.7L744.7,648.3L744,661.7L763,662.7L763,771.7"/>
<path d="M568,600L571.3,620L584.7,631.7L599.7,640L608,653.3L609.7,666.7L603,681.7L611.3,693.3L614.7,706.7L609.7,718.3L598,728.3L589.7,731.7L581.3,736L548,736.7"/>
<path d="M764.7,717.3L896,716.7"/>
<path d="M763,771.7L628,769.3"/>
<path d="M746.3,771.7L747,840L749.7,846L811.3,843.3L856.3,860L904.7,875"/>
<path d="M589.7,731.7L596.3,740L608,751.7L619.7,763.3L628,769.3L638,780L646.3,791.7L651.3,806.7L659.7,820L664.7,830L676.3,843.3L681.3,846.7L691.3,841.7L703,835L709.7,841.7L718,830L726.3,820L731.3,823.3L734.7,830L743,833.3L747,840"/>
<path d="M681.3,846.7L684.7,856.7L681.3,871.7L678,890L674.7,906.7"/>
<path d="M548,872.3L587.3,873.3L679.7,872.7"/>
<path d="M587.3,873.3L586.3,950.7L631.3,951.7"/>
<path d="M546.3,941.3L586.3,942.3"/>
<path d="M674.7,906.7L684.7,898.3L694.7,895L704.7,892.7L714.7,896.7L721.3,901.7L723,913.3L728,925L730.7,940L728,946.7L728,965"/>
<path d="M728,965L741.3,956.7L754.7,948.3L774.7,945L791.3,940L803,933.3L804.7,923.3L814.7,915L826.3,900L836.3,883.3L844.7,870L856.3,860"/>
<path d="M674.7,906.7L658,921.7L644.7,936.7L633,950L636.3,966.7L634.7,986.7L633,1003.3L629.7,1015L636.3,1021.7"/>
<path d="M728,965L728.7,1023.3"/>
<path d="M1043.3,600L1042.7,680L1044.3,681L1043.3,715"/>
<path d="M1042.7,610L1217.7,604"/>
<path d="M902.7,600L902.7,646.7L956,646L956,600"/>
<path d="M902.7,646.7L903.3,893.3"/>
<path d="M1043.3,696.7L1219.3,691"/>
<path d="M896,716.7L990.3,715.7L1043.3,714.3"/>
<path d="M990.3,715.7L991.7,786.7L974.3,786.7L973.7,798.3L942.7,799L936,795L922.7,795L904.3,792.7"/>
<path d="M991.7,767.7L1112.7,765L1222.7,761.3"/>
<path d="M1007.7,767.7L1010.3,892.7"/>
<path d="M1112.7,765L1114.3,833.3L1113.3,853.3L1115.3,889.3"/>
<path d="M896,873.3L904.3,875"/>
<path d="M904.3,893.3L1010.3,892L1062.7,891.7L1226,886.7"/>
<path d="M1062.7,891.7L1063.7,933.3L1063.7,1020.7"/>
</g>
<g fill="none" stroke="#000" stroke-width="2.6" stroke-linejoin="miter">
<path d="M20,198.2L135.8,203.3L400,210.5L700,214.5L900,213.8L1205,210.4"/>
<path d="M1205,210.4L1212.4,410.5L1222,700L1233,1015.7"/>
<path d="M135.8,203.3L117,620L99,1010.3L93,1135"/>
<path d="M20,1006L99,1010.3L260,1016L400,1019.5L660,1023.3L915,1024.3L1000,1023.3L1078,1022L1233,1015.7L1325,1013"/>
<path d="M1212.4,410.5L1325,407.5"/>
<path d="M1076.8,1022.5L1079.9,1120.6"/>
<path d="M1073,1136L1073,1122L1079.9,1120.8L1325,1113.4"/>
<path d="M898,100L898,213.8"/>
</g>
</g>
<rect x="20" y="100" width="1305" height="1035" fill="none" stroke="#000" stroke-width="2.2"/>
<rect x="383.4" y="111.7" width="578.6" height="94.6" fill="#fff" stroke="#000" stroke-width="2.8"/>
<text x="393.8" y="138.5" font-size="23.7" textLength="111.8" lengthAdjust="spacingAndGlyphs">statewide</text><text x="512.9" y="138.5" font-size="23.7" textLength="113.2" lengthAdjust="spacingAndGlyphs">departure</text><text x="633.3" y="138.5" font-size="23.7" textLength="53.3" lengthAdjust="spacingAndGlyphs">from</text><text x="693.9" y="138.5" font-size="23.7" textLength="124.9" lengthAdjust="spacingAndGlyphs">1901-2000</text><text x="826.1" y="138.5" font-size="23.7" textLength="49.9" lengthAdjust="spacingAndGlyphs">avg:</text><text x="883.2" y="138.5" font-size="23.7" textLength="69.3" lengthAdjust="spacingAndGlyphs">-1.3°F</text>
<text x="393.8" y="165.2" font-size="23.7" textLength="111.8" lengthAdjust="spacingAndGlyphs">statewide</text><text x="512.9" y="165.2" font-size="23.7" textLength="113.2" lengthAdjust="spacingAndGlyphs">departure</text><text x="633.3" y="165.2" font-size="23.7" textLength="53.3" lengthAdjust="spacingAndGlyphs">from</text><text x="693.9" y="165.2" font-size="23.7" textLength="124.9" lengthAdjust="spacingAndGlyphs">1991-2020</text><text x="826.1" y="165.2" font-size="23.7" textLength="49.9" lengthAdjust="spacingAndGlyphs">avg:</text><text x="883.2" y="165.2" font-size="23.7" textLength="69.3" lengthAdjust="spacingAndGlyphs">-2.1°F</text>
<text x="393.8" y="192" font-size="23.7" textLength="111.8" lengthAdjust="spacingAndGlyphs">statewide</text><text x="512.9" y="192" font-size="23.7" textLength="59" lengthAdjust="spacingAndGlyphs">rank:</text><text x="579.1" y="192" font-size="23.7" textLength="67.2" lengthAdjust="spacingAndGlyphs">119th</text><text x="653.6" y="192" font-size="23.7" textLength="159.5" lengthAdjust="spacingAndGlyphs">warmest/12th</text><text x="820.4" y="192" font-size="23.7" textLength="82.5" lengthAdjust="spacingAndGlyphs">coldest</text>
<rect x="31.9" y="1040.6" width="626.7" height="83.2" fill="#fff" stroke="#000" stroke-width="2.8"/>
<text x="40" y="1065.5" font-size="22.3" textLength="78.6" lengthAdjust="spacingAndGlyphs">source:</text><text x="125.5" y="1065.5" font-size="22.3" textLength="66.4" lengthAdjust="spacingAndGlyphs">PRISM</text><text x="198.8" y="1065.5" font-size="22.3" textLength="82.7" lengthAdjust="spacingAndGlyphs">Climate</text><text x="288.3" y="1065.5" font-size="22.3" textLength="72.3" lengthAdjust="spacingAndGlyphs">Group,</text><text x="367.5" y="1065.5" font-size="22.3" textLength="78.9" lengthAdjust="spacingAndGlyphs">Oregon</text><text x="453.2" y="1065.5" font-size="22.3" textLength="56.9" lengthAdjust="spacingAndGlyphs">State</text><text x="517" y="1065.5" font-size="22.3" textLength="108.5" lengthAdjust="spacingAndGlyphs">University</text>
<text x="40" y="1088.6" font-size="22.3" textLength="55" lengthAdjust="spacingAndGlyphs">map:</text><text x="101.8" y="1088.6" font-size="22.3" textLength="96.1" lengthAdjust="spacingAndGlyphs">Colorado</text><text x="204.8" y="1088.6" font-size="22.3" textLength="82.7" lengthAdjust="spacingAndGlyphs">Climate</text><text x="294.4" y="1088.6" font-size="22.3" textLength="175.7" lengthAdjust="spacingAndGlyphs">Center/Colorado</text><text x="476.9" y="1088.6" font-size="22.3" textLength="56.9" lengthAdjust="spacingAndGlyphs">State</text><text x="540.7" y="1088.6" font-size="22.3" textLength="108.5" lengthAdjust="spacingAndGlyphs">University</text>
<text x="40" y="1111.6" font-size="22.3" textLength="47.8" lengthAdjust="spacingAndGlyphs">map</text><text x="94.6" y="1111.6" font-size="22.3" textLength="111.1" lengthAdjust="spacingAndGlyphs">generated</text><text x="212.5" y="1111.6" font-size="22.3" textLength="27.4" lengthAdjust="spacingAndGlyphs">04</text><text x="246.7" y="1111.6" font-size="22.3" textLength="65.5" lengthAdjust="spacingAndGlyphs">March</text><text x="319.1" y="1111.6" font-size="22.3" textLength="54.7" lengthAdjust="spacingAndGlyphs">2025</text>
<path d="M122.5,1147.6 L68.2,1167.1999999999998 L122.5,1186.8 Z" fill="#053061"/>
<rect x="122.2" y="1147.6" width="110.6" height="39.2" fill="#124984"/>
<rect x="232.2" y="1147.6" width="110.6" height="39.2" fill="#327cb7"/>
<rect x="342.2" y="1147.6" width="110.6" height="39.2" fill="#6bacd1"/>
<rect x="452.2" y="1147.6" width="110.6" height="39.2" fill="#b1d5e7"/>
<rect x="562.2" y="1147.6" width="110.6" height="39.2" fill="#e4eef4"/>
<rect x="672.2" y="1147.6" width="110.6" height="39.2" fill="#fae9df"/>
<rect x="782.2" y="1147.6" width="110.6" height="39.2" fill="#f8bfa4"/>
<rect x="892.2" y="1147.6" width="110.6" height="39.2" fill="#e48066"/>
<rect x="1002.2" y="1147.6" width="110.6" height="39.2" fill="#c43b3c"/>
<rect x="1112.2" y="1147.6" width="110.6" height="39.2" fill="#8a0b25"/>
<path d="M1222.5,1147.6 L1276.6,1167.1999999999998 L1222.5,1186.8 Z" fill="#67001f"/>
<path d="M122.5,1147.6 L1222.5,1147.6 L1276.6,1167.1999999999998 L1222.5,1186.8 L122.5,1186.8 L68.2,1167.1999999999998 Z" fill="none" stroke="#000" stroke-width="2.2" stroke-linejoin="miter"/>
<path d="M232.5,1186.8 V1196.6" stroke="#000" stroke-width="2.2"/>
<text x="198.8" y="1230.2" font-size="28.3" text-anchor="start" textLength="67.5" lengthAdjust="spacingAndGlyphs">−2.4</text>
<path d="M452.5,1186.8 V1196.6" stroke="#000" stroke-width="2.2"/>
<text x="418.8" y="1230.2" font-size="28.3" text-anchor="start" textLength="67.5" lengthAdjust="spacingAndGlyphs">−1.2</text>
<path d="M672.5,1186.8 V1196.6" stroke="#000" stroke-width="2.2"/>
<text x="650.4" y="1230.2" font-size="28.3" text-anchor="start" textLength="44.2" lengthAdjust="spacingAndGlyphs">0.0</text>
<path d="M892.5,1186.8 V1196.6" stroke="#000" stroke-width="2.2"/>
<text x="870.4" y="1230.2" font-size="28.3" text-anchor="start" textLength="44.2" lengthAdjust="spacingAndGlyphs">1.2</text>
<path d="M1112.5,1186.8 V1196.6" stroke="#000" stroke-width="2.2"/>
<text x="1090.4" y="1230.2" font-size="28.3" text-anchor="start" textLength="44.2" lengthAdjust="spacingAndGlyphs">2.4</text>
<text x="326.6" y="1272.4" font-size="34.5" textLength="209.5" lengthAdjust="spacingAndGlyphs">temperature</text><text x="546.7" y="1272.4" font-size="34.5" textLength="164.6" lengthAdjust="spacingAndGlyphs">departure</text><text x="721.9" y="1272.4" font-size="34.5" textLength="77.6" lengthAdjust="spacingAndGlyphs">from</text><text x="810.1" y="1272.4" font-size="34.5" textLength="136.4" lengthAdjust="spacingAndGlyphs">average</text><text x="957.1" y="1272.4" font-size="34.5" textLength="61.8" lengthAdjust="spacingAndGlyphs">(°F)</text>
<text x="53.2" y="45.3" font-size="34.5" textLength="209.5" lengthAdjust="spacingAndGlyphs">temperature</text><text x="273.3" y="45.3" font-size="34.5" textLength="164.6" lengthAdjust="spacingAndGlyphs">departure</text><text x="448.5" y="45.3" font-size="34.5" textLength="77.6" lengthAdjust="spacingAndGlyphs">from</text><text x="536.7" y="45.3" font-size="34.5" textLength="181.7" lengthAdjust="spacingAndGlyphs">1991-2020</text><text x="729" y="45.3" font-size="34.5" textLength="136.4" lengthAdjust="spacingAndGlyphs">average</text><text x="876" y="45.3" font-size="34.5" textLength="202.9" lengthAdjust="spacingAndGlyphs">(preliminary</text><text x="1089.5" y="45.3" font-size="34.5" textLength="103" lengthAdjust="spacingAndGlyphs">PRISM</text><text x="1203.1" y="45.3" font-size="34.5" textLength="88.1" lengthAdjust="spacingAndGlyphs">data)</text>
<text x="309.4" y="84.3" font-size="34.5" textLength="42.4" lengthAdjust="spacingAndGlyphs">12</text><text x="362.4" y="84.3" font-size="34.5" textLength="125.5" lengthAdjust="spacingAndGlyphs">months</text><text x="498.5" y="84.3" font-size="34.5" textLength="114.3" lengthAdjust="spacingAndGlyphs">ending</text><text x="623.5" y="84.3" font-size="34.5" textLength="147.7" lengthAdjust="spacingAndGlyphs">February</text><text x="781.8" y="84.3" font-size="34.5" textLength="84.8" lengthAdjust="spacingAndGlyphs">1921</text><text x="877.2" y="84.3" font-size="34.5" textLength="157.8" lengthAdjust="spacingAndGlyphs">(Mar-Feb)</text>
</svg></body></html>
